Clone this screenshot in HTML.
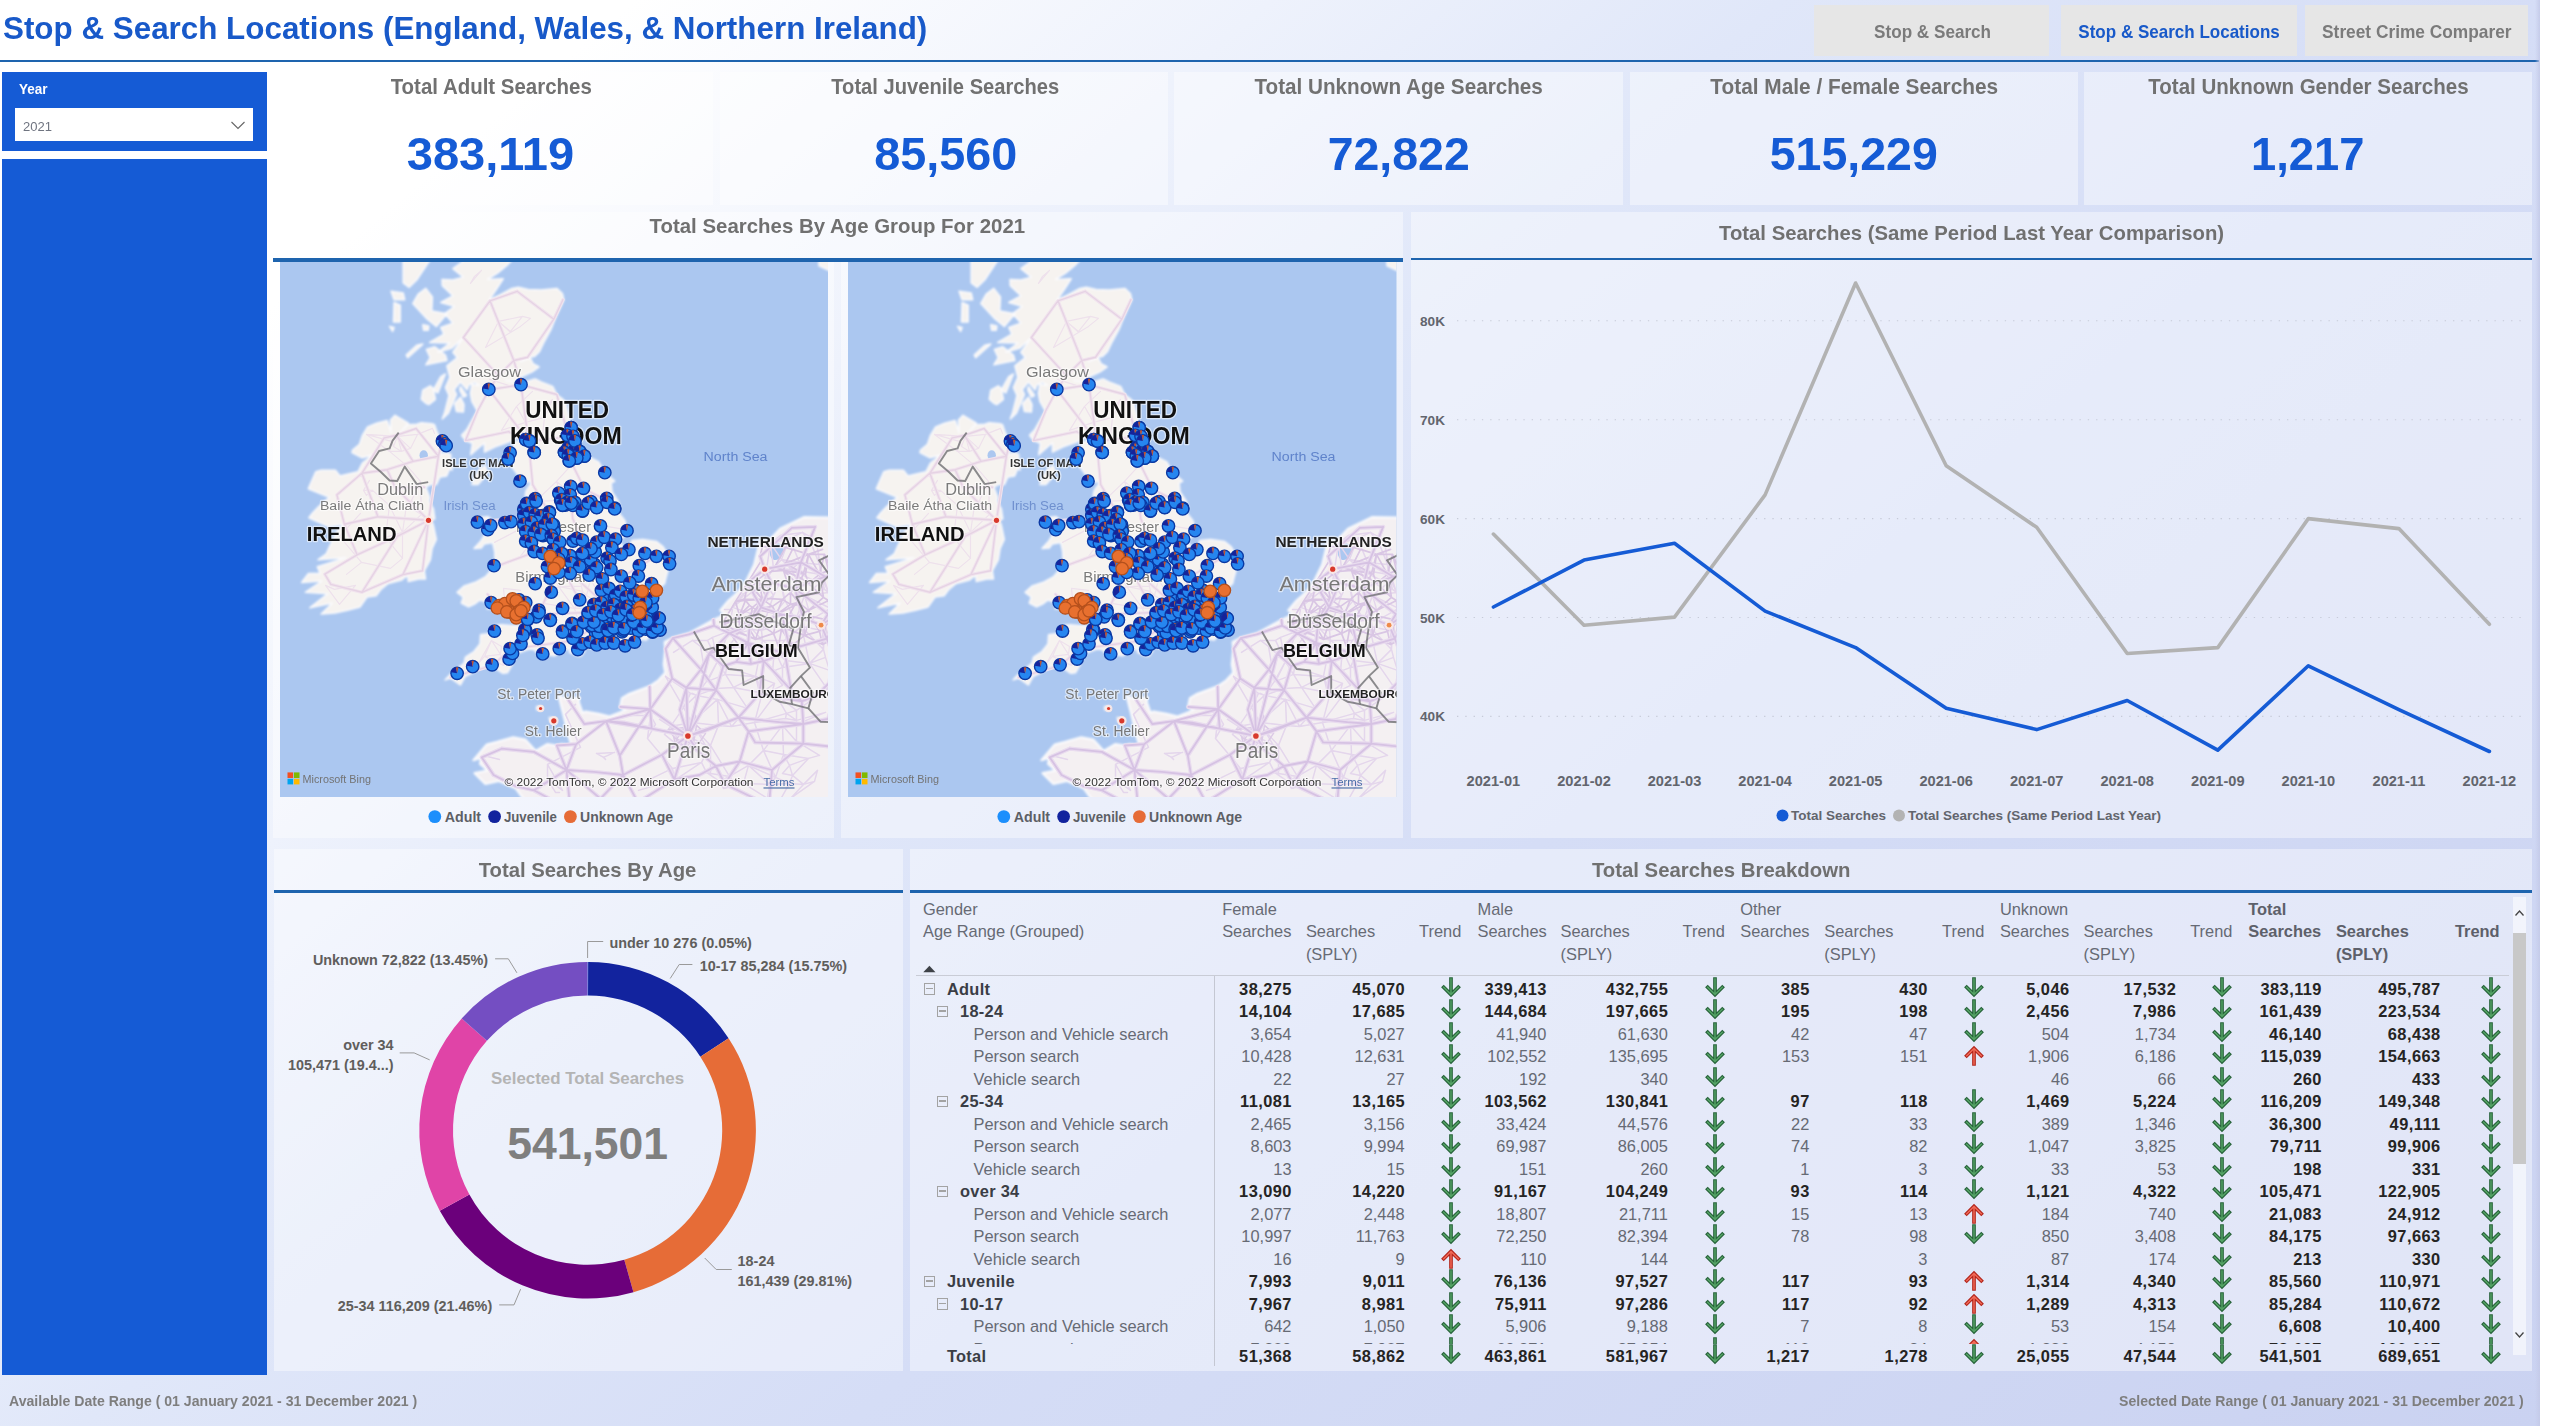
<!DOCTYPE html>
<html lang="en">
<head>
<meta charset="utf-8">
<title>Stop &amp; Search Locations</title>
<style>
*{box-sizing:border-box;margin:0;padding:0}
html,body{width:2560px;height:1426px;overflow:hidden;background:#fff}
body{font-family:"Liberation Sans",sans-serif;color:#6b6b6b;position:relative}
#canvas{position:absolute;left:0;top:0;width:2540px;height:1426px;overflow:hidden;
 background:linear-gradient(140deg,#fff 0%,#fff 15%,#eef2fc 30%,#e0e7f9 42%,#d5ddf6 60%,#cad2f1 100%)}
#edge{position:absolute;left:2535px;top:0;width:5px;height:1426px;background:linear-gradient(90deg,rgba(200,206,236,0),rgba(196,202,232,.9))}
.abs{position:absolute}
.panel{position:absolute;background:rgba(255,255,255,.42)}
.hline{position:absolute;height:3px;background:#1e64ae}
.t{position:absolute;white-space:nowrap;line-height:1;font-weight:bold}
.nav{position:absolute;top:4.5px;height:51.5px;background:#e6e6e6}
.side{position:absolute;left:2px;width:264.5px;background:#155bd5}
</style>
</head>
<body>
<div id="canvas">
<!-- HEADER -->
<div class="t" style="top:13.42px;font-size:31.10px;color:#1859c9;left:2.50px;transform:scaleX(1.0088);transform-origin:0 50%;">Stop &amp; Search Locations (England, Wales, &amp; Northern Ireland)</div>
<div class="nav" style="left:1814.0px;width:235.0px"></div>
<div class="nav" style="left:2060.7px;width:236.0px"></div>
<div class="nav" style="left:2305.0px;width:223.3px"></div>
<div class="t" style="top:22.76px;font-size:18.60px;color:#7b7b7b;left:1848.53px;width:167.13px;text-align:center;transform:scaleX(0.9203);">Stop &amp; Search</div>
<div class="t" style="top:22.76px;font-size:18.60px;color:#1859c9;left:2049.03px;width:260.14px;text-align:center;transform:scaleX(0.9153);">Stop &amp; Search Locations</div>
<div class="t" style="top:22.76px;font-size:18.60px;color:#7b7b7b;left:2295.08px;width:243.64px;text-align:center;transform:scaleX(0.9306);">Street Crime Comparer</div>
<div class="hline" style="left:0;top:59.6px;width:2539px;height:2.8px"></div>
<!-- SIDEBAR -->
<div class="side" style="top:72px;height:79.3px"></div>
<div class="t" style="top:82.35px;font-size:14.00px;color:#fff;left:19.00px;transform:scaleX(0.9633);transform-origin:0 50%;">Year</div>
<div class="abs" style="left:14.5px;top:107.5px;width:238.5px;height:33.3px;background:#fff"></div>
<div class="t" style="top:120.09px;font-size:13.60px;font-weight:normal;color:#6f7480;left:23.00px;transform:scaleX(0.9585);transform-origin:0 50%;">2021</div>
<svg class="abs" style="left:230px;top:119px" width="16" height="12" viewBox="0 0 16 12"><path d="M1.5 3 L8 9.5 L14.5 3" fill="none" stroke="#666" stroke-width="1.1"/></svg>
<div class="side" style="top:158.5px;height:1216.3px"></div>
<!-- KPI CARDS -->
<div class="panel" style="left:273.0px;top:71.7px;width:440.0px;height:133px"></div>
<div class="panel" style="left:720.0px;top:71.7px;width:447.5px;height:133px"></div>
<div class="panel" style="left:1174.0px;top:71.7px;width:448.5px;height:133px"></div>
<div class="panel" style="left:1630.0px;top:71.7px;width:447.5px;height:133px"></div>
<div class="panel" style="left:2084.0px;top:71.7px;width:448.0px;height:133px"></div>
<div class="t" style="top:75.92px;font-size:21.60px;color:#717171;left:364.58px;width:252.45px;text-align:center;transform:scaleX(0.9471);">Total Adult Searches</div>
<div class="t" style="top:130.60px;font-size:46.90px;color:#155bd5;left:387.33px;width:206.95px;text-align:center;transform:scaleX(1.0027);">383,119</div>
<div class="t" style="top:75.92px;font-size:21.60px;color:#717171;left:803.05px;width:284.51px;text-align:center;transform:scaleX(0.9325);">Total Juvenile Searches</div>
<div class="t" style="top:130.60px;font-size:46.90px;color:#155bd5;left:853.58px;width:183.45px;text-align:center;transform:scaleX(0.9969);">85,560</div>
<div class="t" style="top:75.92px;font-size:21.60px;color:#717171;left:1228.37px;width:341.26px;text-align:center;transform:scaleX(0.9576);">Total Unknown Age Searches</div>
<div class="t" style="top:130.60px;font-size:46.90px;color:#155bd5;left:1307.28px;width:183.45px;text-align:center;transform:scaleX(0.9899);">72,822</div>
<div class="t" style="top:75.92px;font-size:21.60px;color:#717171;left:1684.73px;width:338.53px;text-align:center;transform:scaleX(0.9647);">Total Male / Female Searches</div>
<div class="t" style="top:130.60px;font-size:46.90px;color:#155bd5;left:1749.23px;width:209.53px;text-align:center;transform:scaleX(0.9910);">515,229</div>
<div class="t" style="top:75.92px;font-size:21.60px;color:#717171;left:2119.56px;width:376.88px;text-align:center;transform:scaleX(0.9514);">Total Unknown Gender Searches</div>
<div class="t" style="top:130.60px;font-size:46.90px;color:#155bd5;left:2229.32px;width:157.37px;text-align:center;transform:scaleX(0.9671);">1,217</div>
<!-- MAP SECTION -->
<div class="panel" style="left:273px;top:212.3px;width:1130px;height:46px"></div>
<div class="t" style="top:216.29px;font-size:20.80px;color:#707070;left:626.30px;width:422.61px;text-align:center;transform:scaleX(0.9819);">Total Searches By Age Group For 2021</div>
<div class="hline" style="left:273px;top:258.4px;width:1130px;height:3.2px"></div>
<div class="panel" style="left:273px;top:261.6px;width:560.5px;height:576.4px"></div>
<div class="panel" style="left:841px;top:261.6px;width:562px;height:576.4px"></div>
<!--MAPS-->
<svg width="0" height="0" style="position:absolute"><defs>
<filter id="bl" x="-5%" y="-5%" width="110%" height="110%"><feGaussianBlur stdDeviation="0.9"/></filter>
<filter id="bl2" x="-5%" y="-5%" width="110%" height="110%"><feGaussianBlur stdDeviation="0.6"/></filter>
<g id="mb"><circle r="6.2" fill="#2686f0" stroke="#0a39a3" stroke-width="1.4"/><path d="M0 0L-5.9 -1A6 6 0 0 1 -1.2 -5.9Z" fill="#16239a"/><path d="M0 0L-1.2 -5.9A6 6 0 0 1 1.2 -5.9Z" fill="#c0502c"/></g>
<g id="mn"><circle r="6.2" fill="#2686f0" stroke="#0a39a3" stroke-width="1.4"/><path d="M0 0L-4.5 4A6 6 0 0 1 -.5 -6Z" fill="#16239a"/><path d="M0 0L-.5 -6A6 6 0 0 1 1.4 -5.8Z" fill="#c0502c"/></g>
<g id="mo"><circle r="6.2" fill="#e8702f" stroke="#b4501c" stroke-width="1.3"/></g>
<symbol id="map" viewBox="279.5 261.6 548.5 535.4" overflow="hidden">
<rect x="279" y="260" width="550" height="538" fill="#abc7f0"/>
<g filter="url(#bl)"><path d="M466.0 235.5L495.5 236.6L515.1 232.6L525.6 234.3L523.8 245.9L506.6 264.8L497.0 272.8L487.0 279.0L502.7 278.4L496.1 288.6L488.5 299.8L500.0 294.2L511.4 288.0L517.8 286.9L527.4 289.2L540.7 289.7L556.3 288.0L561.8 293.1L563.3 299.3L554.2 319.4L550.3 329.3L542.8 343.1L538.9 351.3L533.7 356.2L527.1 356.8L520.2 361.1L529.8 357.3L532.5 363.3L538.6 366.6L531.6 371.5L521.7 375.8L514.2 381.2L505.1 380.1L521.1 382.8L534.6 378.5L541.0 381.7L552.1 386.0L556.3 394.1L562.4 398.9L565.1 402.6L568.1 414.3L571.4 428.1L573.8 433.9L575.6 439.6L581.0 451.1L582.0 453.7L584.7 454.8L598.2 461.5L604.5 472.4L614.2 480.6L610.6 482.7L611.5 491.4L617.5 500.6L619.9 508.2L606.7 500.1L595.5 502.1L610.6 506.2L615.7 509.2L624.4 520.4L626.8 530.4L626.5 532.5L619.0 541.0L622.6 546.5L628.7 548.0L631.4 540.0L642.2 539.0L655.8 541.0L662.7 546.5L668.7 556.9L669.6 563.3L667.2 570.8L664.8 579.6L664.2 583.0L657.3 588.9L655.2 589.9L655.5 594.3L651.2 597.2L643.7 599.2L645.2 606.5L638.0 609.8L627.1 613.2L627.7 614.2L639.5 614.2L647.6 618.1L658.2 616.6L660.0 617.6L659.4 619.5L658.8 624.8L657.9 628.7L652.2 631.5L645.8 639.7L639.8 638.7L634.4 642.5L624.1 647.8L612.4 644.0L605.5 644.4L592.8 648.7L583.8 645.4L574.4 640.1L569.9 647.3L569.9 649.2L560.0 648.7L557.8 652.5L554.5 655.4L542.8 654.0L542.5 658.7L533.4 649.2L528.3 648.7L513.9 654.0L511.7 663.9L506.9 672.4L502.4 672.9L491.9 665.8L482.5 666.3L472.0 672.4L464.4 676.2L459.9 684.6L450.0 677.6L444.6 679.5L451.5 672.4L463.5 663.0L465.0 656.8L473.5 651.1L479.5 643.5L480.1 634.4L490.1 633.0L492.5 625.3L501.2 624.3L512.0 625.3L526.2 625.3L526.8 618.5L535.2 611.3L541.3 601.6L526.5 608.9L521.1 613.2L509.6 616.1L505.1 612.3L497.9 605.5L496.1 607.9L486.7 608.4L490.1 603.1L479.5 599.6L475.0 603.1L468.1 606.5L460.8 602.6L462.9 596.7L456.6 591.9L463.8 585.5L475.6 581.6L485.2 576.2L493.4 566.8L494.6 560.9L494.3 551.4L492.2 542.0L483.7 543.5L481.0 547.5L473.5 548.0L480.4 540.5L486.1 531.4L482.5 529.4L476.5 521.9L478.9 517.3L487.3 516.3L494.9 521.9L493.1 525.9L500.0 520.4L505.1 522.4L511.4 521.4L516.6 519.9L524.7 527.4L520.2 517.9L525.0 515.3L526.2 517.3L523.2 509.8L526.2 504.7L532.2 500.1L524.7 496.0L525.6 490.4L532.2 480.6L518.7 483.2L518.7 476.5L507.2 460.5L509.0 453.2L511.1 449.6L514.5 441.7L524.7 437.5L518.4 436.0L508.1 441.7L494.6 446.4L484.0 451.7L484.0 442.3L470.2 454.3L472.0 442.8L465.0 440.2L461.1 434.9L466.0 429.7L470.2 422.3L476.8 410.6L471.4 401.0L469.9 393.0L471.4 383.9L478.9 385.0L474.1 381.7L468.4 384.4L466.6 389.3L459.9 381.7L453.6 389.3L456.0 394.1L447.9 412.7L441.8 418.6L444.0 412.7L448.5 395.1L444.9 387.1L449.4 376.9L446.4 365.5L456.9 357.3L452.4 351.9L462.9 337.1L450.9 348.0L437.3 351.9L449.4 342.6L429.2 342.0L443.4 333.8L440.3 327.1L452.4 322.7L444.3 313.3L453.9 306.0L440.3 302.1L452.4 295.4L441.8 285.2L441.5 279.0L452.4 279.6L462.9 276.7L452.4 268.2L462.9 260.8L453.9 255.6L466.0 247.0ZM394.5 414.9L407.8 422.8L399.7 432.3L407.2 424.4L416.2 423.9L420.8 422.3L431.3 423.3L434.0 424.4L436.7 432.3L441.8 442.8L444.9 445.4L438.8 454.3L445.8 452.2L450.0 453.7L451.5 469.8L449.4 467.8L446.1 475.5L439.4 476.5L435.8 484.2L429.8 484.2L425.3 486.8L429.2 497.0L428.3 501.1L432.8 508.2L434.3 518.4L429.8 520.4L432.2 522.9L433.4 527.4L435.8 539.0L431.6 548.0L429.8 559.4L423.8 570.3L425.0 578.6L418.3 578.6L407.8 581.1L407.2 574.7L401.2 579.6L387.6 583.0L380.1 589.4L375.6 595.3L366.5 596.7L359.6 606.5L346.9 609.8L334.3 612.7L320.7 613.7L331.9 602.6L309.3 607.4L327.4 593.3L304.8 591.9L321.3 580.6L301.1 582.1L307.8 573.2L319.8 573.2L316.8 566.3L345.4 557.4L317.4 559.4L325.8 553.4L331.9 540.0L337.3 529.9L343.9 523.9L327.4 525.9L308.4 517.3L312.3 512.3L318.3 506.2L328.9 497.0L307.8 488.3L315.3 471.4L320.7 469.8L334.9 469.8L339.4 475.5L357.5 471.4L362.0 462.6L372.5 454.3L361.7 457.4L351.5 452.2L352.1 449.6L359.0 443.8L362.0 434.9L367.1 426.5L376.2 422.8L386.7 420.2L390.6 432.3L390.0 419.6ZM568.7 651.6L577.4 646.3L584.4 650.2L580.7 655.4L577.4 655.9ZM484.9 465.2L486.7 471.4L481.9 479.1L477.4 484.2L471.4 484.2L475.0 475.5L479.5 468.3ZM459.9 396.8L463.5 404.2L462.9 411.7L456.0 411.1L454.2 403.2ZM420.8 398.9L422.3 389.8L429.8 385.5L432.8 388.2L434.9 398.9L428.3 404.2L425.9 403.2ZM444.9 373.6L437.3 392.5L432.8 389.8L440.3 376.3ZM425.3 364.4L446.4 360.1L444.9 354.6L434.3 346.4L425.9 349.1L429.8 357.3ZM446.4 313.3L435.8 326.0L426.8 318.8L412.3 303.2L417.7 293.7L425.3 288.0L431.9 296.5L431.3 310.5ZM429.8 242.4L431.3 256.8L423.8 268.2L416.2 279.6L408.7 286.9L402.7 282.4L402.7 259.6L411.7 251.0ZM390.6 290.9L402.7 292.5L404.2 299.3L393.6 299.3ZM393.6 302.1L399.7 304.9L399.7 321.6L393.0 321.6ZM389.1 326.0L393.6 327.1L392.1 331.0ZM422.3 324.4L428.3 325.5L427.7 329.9L423.2 329.9ZM416.2 344.8L422.3 343.7L407.2 357.3L405.7 354.6ZM459.9 386.0L466.0 395.1L462.9 396.8L459.3 389.8ZM548.8 717.2L555.7 718.1L555.7 721.3L549.7 720.8ZM536.2 706.1L540.7 706.1L540.4 709.8L536.2 709.3ZM518.7 801.9L524.1 805.9L521.7 806.4ZM818.5 265.4L830.5 271.0L845.6 268.2L845.6 225.0L818.5 225.0Z" fill="#f6f3f0" stroke="#fbfbfd" stroke-width="1.5" stroke-linejoin="round"/><path d="M872.7 507.2L833.5 517.3L803.4 516.8L779.6 528.4L768.2 540.5L759.7 539.5L753.7 564.3L745.3 581.6L740.7 587.9L733.2 595.8L728.1 600.1L719.9 609.8L724.2 614.2L718.4 617.1L713.0 619.5L704.3 624.3L688.3 633.0L672.3 637.3L664.2 641.6L664.8 648.7L663.3 663.9L664.8 672.4L657.9 679.9L649.1 686.0L627.7 694.0L621.4 697.7L619.6 706.5L625.6 708.8L618.7 712.5L609.1 716.2L597.9 713.5L585.0 711.1L582.0 712.5L578.3 701.9L578.6 696.8L567.8 699.1L558.1 695.4L562.4 712.1L568.4 736.5L571.1 745.6L560.9 743.8L555.7 745.1L546.7 743.8L535.2 750.6L524.7 739.2L512.7 736.9L496.7 741.5L486.1 744.2L472.9 759.7L481.0 757.4L479.5 763.3L487.0 770.1L474.1 772.8L484.9 783.6L498.5 780.5L515.4 788.1L522.6 797.9L532.2 805.9L532.2 841.2L872.7 841.2Z" fill="#f4f0f2" stroke="#fbfbfd" stroke-width="2.2" stroke-linejoin="round"/></g>
<g filter="url(#bl2)">
<ellipse cx="776.3" cy="551.4" rx="6.5" ry="8.5" fill="#abc7f0" transform="rotate(25 776.3 551.4)"/>
<ellipse cx="423.2" cy="454.8" rx="4.2" ry="5" fill="#abc7f0"/>
<path d="M692 693L696 695M692 693L690 693M483 755L499 759M774 649L762 640M774 649L772 671M774 649L782 667M774 649L779 649M774 649L785 660M731 779L743 783M731 779L723 788M731 779L719 781M731 779L729 776M762 640L761 630M762 640L738 633M762 640L752 629M762 640L755 676M762 640L784 640M789 538L781 559M789 538L780 535M789 538L770 543M789 538L799 562M789 538L802 532M789 538L811 544M555 792L559 792M555 792L547 779M780 799L789 783M780 799L767 798M761 630L795 620M761 630L784 601M761 630L773 595M761 630L750 613M761 630L752 629M732 607L746 596M732 607L750 613M732 607L742 594M732 607L743 595M825 657L823 649M825 657L829 670M825 657L809 663M785 601L795 620M785 601L780 581M785 601L784 601M795 620L811 619M795 620L804 595M696 695L683 707M696 695L691 722M696 695L706 681M696 695L717 699M696 695L716 688M696 695L690 693M700 646L717 661M700 646L706 681M700 646L692 640M819 583L804 595M819 583L824 589M819 583L791 569M596 753L603 757M596 753L614 752M781 559L770 543M781 559L799 562M781 559L773 568M781 559L791 569M705 745L692 738M705 745L696 730M705 745L710 745M790 798L814 781M790 798L803 784M814 781L817 770M814 781L803 784M580 747L547 764M580 747L565 714M647 738L650 715M647 738L655 724M647 738L672 768M763 750L754 722M763 750L748 765M763 750L783 754M763 750L775 777M763 750L782 725M701 762L706 772M701 762L710 745M701 762L674 780M701 762L672 768M780 535L770 543M780 535L802 532M707 681L717 661M707 681L706 681M707 681L725 674M675 719L683 707M675 719L670 726M692 738L696 730M692 738L670 726M692 738L684 751M762 692L754 722M762 692L747 708M762 692L774 683M762 692L775 694M762 692L755 676M789 783L792 775M789 783L803 784M789 783L775 777M789 783L769 784M796 741L796 724M796 741L819 755M796 741L782 725M659 719L670 726M743 783L723 788M743 783L748 765M743 783L769 784M743 783L767 798M696 730L710 745M696 730L718 725M822 630L811 619M822 630L823 649M822 630L801 626M717 661L728 631M717 661L707 640M717 661L726 667M717 661L706 681M717 661L738 633M717 661L712 637M717 661L725 674M706 772L710 773M706 772L719 781M706 772L674 780M723 788L719 781M728 631L738 633M728 631L712 637M728 631L744 625M728 631L732 609M780 581L784 601M780 581L773 595M780 581L764 582M782 773L792 775M782 773L789 765M773 595L750 613M773 595L764 582M683 707L665 676M683 707L691 722M683 707L690 693M575 704L565 714M792 775L803 784M792 775L789 765M792 775L808 758M811 619L830 608M811 619L804 595M746 596L742 594M746 596L764 582M746 596L743 595M710 745L710 773M710 745L729 776M710 745L718 725M670 726L691 722M670 726L664 734M670 726L684 751M750 613L746 627M750 613L752 629M750 613L744 625M603 757L605 759M603 757L614 752M754 722L786 713M754 722L731 726M754 722L775 694M754 722L785 718M665 676L690 693M691 722L717 699M691 722L718 725M707 640L692 640M707 640L712 637M817 770L803 784M759 692L733 687M759 692L747 708M759 692L755 676M669 781L643 782M669 781L674 780M669 781L638 790M786 713L796 720M786 713L775 694M786 713L785 718M786 713L796 710M782 685L772 690M782 685L772 671M782 685L782 667M731 726L747 708M731 726L717 699M731 726L718 725M726 667L755 676M726 667L725 674M746 627L738 633M746 627L752 629M746 627L744 625M796 720L796 724M796 720L785 718M796 720L825 712M796 720L796 710M622 715L650 715M820 574L828 592M820 574L824 589M820 574L791 569M820 574L819 564M643 782L672 768M710 773L729 776M823 649L824 629M823 649L809 663M823 649L801 626M719 781L729 776M674 780L672 768M733 687L747 708M733 687L755 676M733 687L716 688M733 687L725 674M747 708L717 699M789 765L808 758M789 765L783 754M796 724L825 712M816 540L820 568M816 540L802 532M816 540L819 564M770 543L764 582M770 543L773 568M820 568L828 592M820 568L819 564M772 690L774 683M772 690L775 694M748 765L729 776M748 765L775 777M748 765L769 784M692 640L673 652M774 683L755 676M738 633L752 629M738 633L744 625M830 608L804 595M830 608L828 592M830 608L824 629M830 608L825 617M827 689L829 670M827 689L809 663M827 689L796 710M804 595L828 592M804 595L824 589M804 595L791 569M742 594L764 582M742 594L743 595M764 582L773 568M772 671L782 667M829 670L809 663M547 779L562 790M547 779L547 764M775 694L796 710M562 790L547 764M799 562L791 569M799 562L819 564M717 699L718 725M828 592L824 589M802 532L811 544M650 715L655 724M755 676L725 674M773 568L791 569M808 758L819 755M808 758L783 754M824 629L830 651M664 734L684 751M783 754L775 777M783 754L782 725M775 777L769 784M809 663L782 667M809 663L801 626M809 663L785 660M782 667L785 660M769 784L767 798M801 626L784 640M724 609L732 609M779 649L784 640M779 649L785 660M811 544L819 564" fill="none" stroke="#e4d6ec" stroke-width="1.5" stroke-linecap="round"/>
<path d="M825 626L826 642M825 626L829 620M825 626L819 631M762 599L744 599M762 599L758 579M762 599L745 600M762 599L772 606M762 599L752 586M762 599L751 586M762 599L755 609M762 599L766 598M762 599L752 607M785 563L792 549M785 563L783 570M785 563L803 573M785 563L808 554M802 613L804 635M802 613L798 604M802 613L782 627M802 613L808 610M794 605L798 602M794 605L798 604M794 605L790 604M794 605L782 627M794 605L776 614M826 642L829 625M826 642L822 644M761 560L763 575M761 560L748 581M798 602L790 592M798 602L798 604M798 602L790 604M798 602L808 610M798 602L798 583M805 574L803 573M805 574L808 583M805 574L808 554M792 549L808 554M792 549L785 547M773 633L781 629M773 633L776 621M773 633L760 624M773 633L755 639M773 633L778 646M749 605L745 600M749 605L739 615M749 605L752 607M804 635L792 645M804 635L819 631M804 635L782 627M804 635L810 616M804 635L822 644M795 582L790 592M795 582L783 570M795 582L801 578M795 582L798 583M790 592L782 599M790 592L783 570M790 592L790 604M790 592L798 583M829 620L829 625M829 620L810 616M829 620L828 600M782 599L790 604M782 599L772 606M782 599L776 614M782 599L766 598M771 571L774 567M771 571L763 575M771 571L783 570M774 567L783 570M774 567L785 547M739 621L739 615M739 621L739 632M739 621L722 623M739 621L748 627M781 629L792 645M781 629L782 627M781 629L778 646M744 599L735 601M744 599L745 600M744 599L748 581M763 575L758 579M775 613L776 621M775 613L772 606M775 613L776 614M775 613L755 609M735 601L745 600M735 601L739 615M735 601L722 623M735 601L748 581M758 579L752 586M758 579L748 581M758 579L766 598M792 645L782 627M792 645L778 646M776 621L760 624M776 621L782 627M783 570L803 573M783 570L801 578M823 597L808 583M823 597L819 574M823 597L828 600M823 597L808 610M803 573L808 554M803 573L801 578M824 554L831 569M824 554L819 574M824 554L808 554M824 554L828 570M760 624L755 639M760 624L755 609M762 546L785 547M762 546L760 554M822 549L808 554M808 583L819 574M808 583L801 578M808 583L798 583M831 569L828 570M745 600L739 615M790 604L776 614M819 574L808 554M819 574L828 570M739 615L722 623M739 615L748 627M739 615L752 607M819 631L810 616M819 631L822 644M772 606L776 614M772 606L755 609M739 632L755 639M739 632L722 623M739 632L732 636M755 639L748 627M722 623L732 636M732 636L741 649M752 586L751 586M752 586L748 581M810 616L808 610M828 600L808 610M755 609L748 627M755 609L752 607M748 627L752 607M801 578L798 583" fill="none" stroke="#d9c6e4" stroke-width="1.7" stroke-linecap="round"/>
<path d="M676 739L684 727M676 739L673 736M676 739L676 748M676 739L693 743M676 739L687 749M668 729L684 727M668 729L673 736M684 727L693 743M684 727L695 715M690 752L693 750M690 752L676 748M690 752L687 749M705 733L699 742M705 733L696 725M673 736L676 748M693 750L693 743M699 742L693 743M676 748L687 749M696 725L693 743M696 725L695 715M696 725L691 725M693 743L687 749M693 743L691 725M695 715L691 725" fill="none" stroke="#dccbe6" stroke-width="1.5" stroke-linecap="round"/>
<path d="M580 571L558 586M580 571L590 579M580 571L581 586M580 571L584 562M562 500L556 481M562 500L574 496M562 500L535 501M501 646L491 640M501 646L500 654M485 347L510 332M485 347L498 321M503 665L484 656M503 665L504 658M503 665L500 654M561 544L584 562M484 656L478 663M484 656L491 640M484 656L500 654M520 326L530 318M520 326L510 332M470 283L474 276M470 283L481 270M514 387L489 379M610 615L617 625M478 663L491 640M516 406L501 430M516 406L532 391M516 406L525 422M558 586L574 608M558 586L582 591M558 586L549 566M558 586L543 603M558 586L581 586M621 622L617 608M510 331L510 332M510 331L522 316M510 331L498 321M474 276L481 270M574 608L582 591M574 608L543 603M574 608L586 595M574 608L607 608M574 608L582 635M542 435L544 417M582 591L586 595M582 591L581 586M530 318L522 316M552 399L544 417M552 399L544 409M520 590L503 588M616 551L596 562M590 579L586 595M590 579L607 608M590 579L596 562M590 579L584 562M520 556L538 532M614 550L596 562M587 503L578 507M587 503L574 496M587 503L585 513M494 542L517 530M586 595L607 608M607 608L617 608M556 481L574 496M556 481L577 458M556 481L535 501M538 532L535 501M510 332L498 321M544 417L544 409M544 417L525 422M578 507L574 496M578 507L585 513M491 640L500 654M501 430L525 422M624 529L600 525M522 316L498 321M505 609L503 588" fill="none" stroke="#eee1ec" stroke-width="1.2" stroke-linecap="round"/>
<path d="M372 490L366 495M372 490L389 505M372 490L363 490M325 585L334 589M325 585L339 604M434 433L432 428M385 537L402 558M385 537L402 532M385 537L389 505M406 505L402 532M406 505L421 514M410 448L397 436M410 448L417 434M410 448L401 451M390 568L361 562M390 568L402 558M361 562L346 574M361 562L339 536M402 558L402 532M366 434L391 441M366 434L397 436M366 434L389 451M334 589L355 585M432 428L417 434M360 513L339 536M391 441L397 436M391 441L389 451M391 441L393 446M366 495L363 490M397 436L393 446M397 436L417 434M397 436L401 451M389 451L407 466M389 451L401 451M393 446L401 451M402 532L389 505M402 532L421 514M355 585L339 604M420 481L421 514M420 481L407 466M420 481L411 500M369 480L363 490M421 514L411 500" fill="none" stroke="#eee1ec" stroke-width="1.2" stroke-linecap="round"/>
<path d="M613.0 611.3L559.4 563.3M559.4 563.3L549.1 513.3M549.1 513.3L532.2 484.2M532.2 484.2L528.0 440.7M528.0 440.7L488.5 389.3M488.5 389.3L520.5 384.4M488.5 389.3L497.9 375.2M497.9 375.2L513.3 360.1M513.3 360.1L527.1 356.8M527.1 356.8L553.3 318.8M513.3 360.1L489.5 300.4M489.5 300.4L516.6 290.9M516.6 290.9L553.3 318.8M553.3 318.8L562.4 299.3M520.5 384.4L556.3 394.1M556.3 394.1L568.1 436.5M568.1 436.5L569.9 460.0M569.9 460.0L584.1 488.9M584.1 488.9L569.9 497.0M569.9 497.0L572.3 518.4M572.3 518.4L582.0 540.0M582.0 540.0L613.0 611.3M569.9 497.0L549.1 513.3M549.1 513.3L526.8 516.8M526.8 516.8L477.1 521.9M559.4 563.3L538.6 613.7M538.6 613.7L510.2 648.7M510.2 648.7L491.9 665.3M491.9 665.3L450.0 677.1M538.6 613.7L520.8 612.3M520.8 612.3L497.9 605.5M497.9 605.5L487.0 593.8M613.0 611.3L538.6 613.7M613.0 611.3L574.4 640.1M613.0 611.3L656.1 629.1M613.0 611.3L620.2 577.2M620.2 577.2L655.8 555.9M613.0 611.3L578.6 599.2M578.6 599.2L559.4 563.3M559.4 563.3L533.7 551.9M533.7 551.9L493.7 566.8M528.0 440.7L508.1 431.2M508.1 431.2L465.0 440.2M488.5 389.3L477.1 410.6M477.1 410.6L465.0 440.2M528.0 440.7L568.1 436.5M520.5 384.4L528.0 440.7M497.9 375.2L462.9 337.1M462.9 337.1L489.5 300.4M584.1 488.9L606.7 500.1M520.5 384.4L513.3 360.1M510.2 648.7L574.4 640.1M428.0 519.9L437.9 455.8M428.0 519.9L377.4 516.3M377.4 516.3L343.9 523.9M428.0 519.9L396.7 536.0M396.7 536.0L356.6 554.4M396.7 536.0L361.4 591.9M428.0 519.9L422.0 570.3M422.0 570.3L402.4 574.2M402.4 574.2L361.4 591.9M361.4 591.9L330.4 584.0M330.4 584.0L324.3 573.7M324.3 573.7L356.6 554.4M356.6 554.4L343.9 523.9M343.9 523.9L336.4 494.5M336.4 494.5L361.4 472.9M361.4 472.9L386.7 469.3M361.4 472.9L383.7 437.5M383.7 437.5L396.0 434.9M396.0 434.9L415.6 428.1M415.6 428.1L437.9 455.8M437.9 455.8L441.2 442.8M437.9 455.8L412.6 461.0M412.6 461.0L386.7 469.3M412.6 461.0L396.0 434.9M428.0 519.9L394.8 487.3M394.8 487.3L386.7 469.3M377.4 516.3L361.4 472.9M428.0 519.9L402.4 574.2M423.8 486.8L394.8 487.3" fill="none" stroke="#f1e4ee" stroke-width="3.4" stroke-linecap="round"/><path d="M613.0 611.3L559.4 563.3M559.4 563.3L549.1 513.3M549.1 513.3L532.2 484.2M532.2 484.2L528.0 440.7M528.0 440.7L488.5 389.3M488.5 389.3L520.5 384.4M488.5 389.3L497.9 375.2M497.9 375.2L513.3 360.1M513.3 360.1L527.1 356.8M527.1 356.8L553.3 318.8M513.3 360.1L489.5 300.4M489.5 300.4L516.6 290.9M516.6 290.9L553.3 318.8M553.3 318.8L562.4 299.3M520.5 384.4L556.3 394.1M556.3 394.1L568.1 436.5M568.1 436.5L569.9 460.0M569.9 460.0L584.1 488.9M584.1 488.9L569.9 497.0M569.9 497.0L572.3 518.4M572.3 518.4L582.0 540.0M582.0 540.0L613.0 611.3M569.9 497.0L549.1 513.3M549.1 513.3L526.8 516.8M526.8 516.8L477.1 521.9M559.4 563.3L538.6 613.7M538.6 613.7L510.2 648.7M510.2 648.7L491.9 665.3M491.9 665.3L450.0 677.1M538.6 613.7L520.8 612.3M520.8 612.3L497.9 605.5M497.9 605.5L487.0 593.8M613.0 611.3L538.6 613.7M613.0 611.3L574.4 640.1M613.0 611.3L656.1 629.1M613.0 611.3L620.2 577.2M620.2 577.2L655.8 555.9M613.0 611.3L578.6 599.2M578.6 599.2L559.4 563.3M559.4 563.3L533.7 551.9M533.7 551.9L493.7 566.8M528.0 440.7L508.1 431.2M508.1 431.2L465.0 440.2M488.5 389.3L477.1 410.6M477.1 410.6L465.0 440.2M528.0 440.7L568.1 436.5M520.5 384.4L528.0 440.7M497.9 375.2L462.9 337.1M462.9 337.1L489.5 300.4M584.1 488.9L606.7 500.1M520.5 384.4L513.3 360.1M510.2 648.7L574.4 640.1M428.0 519.9L437.9 455.8M428.0 519.9L377.4 516.3M377.4 516.3L343.9 523.9M428.0 519.9L396.7 536.0M396.7 536.0L356.6 554.4M396.7 536.0L361.4 591.9M428.0 519.9L422.0 570.3M422.0 570.3L402.4 574.2M402.4 574.2L361.4 591.9M361.4 591.9L330.4 584.0M330.4 584.0L324.3 573.7M324.3 573.7L356.6 554.4M356.6 554.4L343.9 523.9M343.9 523.9L336.4 494.5M336.4 494.5L361.4 472.9M361.4 472.9L386.7 469.3M361.4 472.9L383.7 437.5M383.7 437.5L396.0 434.9M396.0 434.9L415.6 428.1M415.6 428.1L437.9 455.8M437.9 455.8L441.2 442.8M437.9 455.8L412.6 461.0M412.6 461.0L386.7 469.3M412.6 461.0L396.0 434.9M428.0 519.9L394.8 487.3M394.8 487.3L386.7 469.3M377.4 516.3L361.4 472.9M428.0 519.9L402.4 574.2M423.8 486.8L394.8 487.3" fill="none" stroke="#e6d3e4" stroke-width="1.4" stroke-linecap="round"/>
<path d="M687.4 735.6L708.8 653.0M708.8 653.0L747.7 642.5M747.7 642.5L749.2 624.8M749.2 624.8L760.6 606.9M760.6 606.9L751.6 590.9M751.6 590.9L746.2 583.0M746.2 583.0L764.2 568.8M764.2 568.8L770.9 582.6M770.9 582.6L794.4 587.9M770.9 582.6L760.6 606.9M760.6 606.9L781.4 614.2M781.4 614.2L802.5 617.6M802.5 617.6L820.6 624.8M781.4 614.2L788.0 642.5M788.0 642.5L784.4 653.0M784.4 653.0L799.8 645.9M799.8 645.9L826.3 638.2M826.3 638.2L820.6 624.8M820.6 624.8L827.5 613.7M827.5 613.7L841.7 610.8M841.7 610.8L846.5 588.9M846.5 588.9L859.1 573.2M794.4 587.9L827.5 613.7M794.4 587.9L800.4 561.9M800.4 561.9L814.6 526.4M764.2 568.8L800.4 561.9M764.2 568.8L759.7 555.9M759.7 555.9L791.4 527.4M791.4 527.4L814.6 526.4M800.4 561.9L824.5 576.2M824.5 576.2L859.1 573.2M794.4 587.9L824.5 576.2M747.7 642.5L784.4 653.0M747.7 642.5L763.3 660.6M763.3 660.6L801.3 700.9M763.3 660.6L784.4 653.0M747.7 642.5L750.4 663.4M750.4 663.4L763.3 660.6M747.7 642.5L728.7 633.0M728.7 633.0L713.6 625.3M713.6 625.3L713.0 619.5M713.6 625.3L688.3 633.9M688.3 633.9L672.3 637.8M672.3 637.8L665.1 648.3M665.1 648.3L671.7 678.0M671.7 678.0L685.9 687.4M671.7 678.0L649.7 708.8M685.9 687.4L687.4 735.6M685.9 687.4L715.7 689.8M715.7 689.8L738.0 717.2M708.8 653.0L700.4 669.1M700.4 669.1L685.9 687.4M700.4 669.1L715.7 689.8M672.3 637.8L700.4 669.1M708.8 653.0L728.7 633.0M728.7 633.0L749.2 624.8M708.8 653.0L722.7 665.8M722.7 665.8L735.6 661.5M735.6 661.5L750.4 663.4M735.6 661.5L747.7 642.5M687.4 735.6L738.0 717.2M738.0 717.2L748.0 731.0M748.0 731.0L802.8 723.6M738.0 717.2L758.8 693.5M758.8 693.5L763.3 660.6M802.8 723.6L801.3 700.9M802.8 723.6L802.8 743.3M802.8 723.6L827.5 718.5M827.5 718.5L850.1 748.3M802.8 743.3L850.1 748.3M801.3 700.9L816.7 694.4M816.7 694.4L845.6 665.8M845.6 665.8L830.5 648.3M830.5 648.3L826.3 638.2M801.3 700.9L792.0 697.7M792.0 697.7L784.4 653.0M687.4 735.6L649.7 708.8M649.7 708.8L619.9 706.5M649.7 708.8L605.5 720.8M605.5 720.8L583.8 723.6M583.8 723.6L567.8 699.5M605.5 720.8L575.6 743.8M575.6 743.8L566.0 769.6M566.0 769.6L533.4 751.5M533.4 751.5L501.2 748.3M501.2 748.3L481.3 757.0M481.3 757.0L493.1 774.6M493.1 774.6L515.1 785.8M515.1 785.8L533.4 789.9M533.4 789.9L569.9 809.5M566.0 769.6L569.9 809.5M566.0 769.6L593.4 771.4M593.4 771.4L622.6 774.6M622.6 774.6L661.5 754.3M661.5 754.3L687.4 735.6M622.6 774.6L600.0 798.3M600.0 798.3L569.9 809.5M622.6 774.6L637.4 801.9M637.4 801.9L673.8 779.1M673.8 779.1L687.4 735.6M622.6 774.6L619.3 755.2M619.3 755.2L649.7 708.8M619.3 755.2L605.5 720.8M687.4 735.6L696.7 750.2M696.7 750.2L715.4 765.6M715.4 765.6L739.2 761.1M715.4 765.6L724.2 783.6M724.2 783.6L768.5 805.0M739.2 761.1L771.5 769.6M771.5 769.6L802.8 743.3M771.5 769.6L768.5 805.0M739.2 761.1L748.0 731.0M687.4 735.6L703.4 731.0M703.4 731.0L738.0 717.2M687.4 735.6L679.3 709.3M679.3 709.3L685.9 687.4M687.4 735.6L701.9 709.8M701.9 709.8L715.7 689.8M687.4 735.6L651.2 728.2M651.2 728.2L605.5 720.8M651.2 728.2L649.7 708.8M649.1 686.5L649.7 708.8M748.0 731.0L754.6 742.0M754.6 742.0L802.8 743.3M778.7 721.8L802.8 723.6M738.0 717.2L778.7 721.8M673.8 779.1L698.9 774.6M698.9 774.6L715.4 765.6M566.0 769.6L556.3 745.1M556.3 745.1L575.6 743.8M566.0 769.6L533.4 789.9M566.0 769.6L600.0 798.3M637.4 801.9L600.0 798.3M623.5 722.2L605.5 720.8M623.5 722.2L651.2 728.2M751.6 590.9L770.9 582.6M749.2 624.8L781.4 614.2M788.0 642.5L799.8 645.9M802.5 617.6L794.4 587.9M758.8 693.5L801.3 700.9M715.7 689.8L722.7 665.8M673.8 779.1L661.5 754.3M724.2 783.6L739.2 761.1M820.6 624.8L841.7 610.8M845.6 665.8L827.5 718.5M826.3 638.2L841.7 610.8" fill="none" stroke="#e9dcef" stroke-width="4.2" stroke-linecap="round"/><path d="M687.4 735.6L708.8 653.0M708.8 653.0L747.7 642.5M747.7 642.5L749.2 624.8M749.2 624.8L760.6 606.9M760.6 606.9L751.6 590.9M751.6 590.9L746.2 583.0M746.2 583.0L764.2 568.8M764.2 568.8L770.9 582.6M770.9 582.6L794.4 587.9M770.9 582.6L760.6 606.9M760.6 606.9L781.4 614.2M781.4 614.2L802.5 617.6M802.5 617.6L820.6 624.8M781.4 614.2L788.0 642.5M788.0 642.5L784.4 653.0M784.4 653.0L799.8 645.9M799.8 645.9L826.3 638.2M826.3 638.2L820.6 624.8M820.6 624.8L827.5 613.7M827.5 613.7L841.7 610.8M841.7 610.8L846.5 588.9M846.5 588.9L859.1 573.2M794.4 587.9L827.5 613.7M794.4 587.9L800.4 561.9M800.4 561.9L814.6 526.4M764.2 568.8L800.4 561.9M764.2 568.8L759.7 555.9M759.7 555.9L791.4 527.4M791.4 527.4L814.6 526.4M800.4 561.9L824.5 576.2M824.5 576.2L859.1 573.2M794.4 587.9L824.5 576.2M747.7 642.5L784.4 653.0M747.7 642.5L763.3 660.6M763.3 660.6L801.3 700.9M763.3 660.6L784.4 653.0M747.7 642.5L750.4 663.4M750.4 663.4L763.3 660.6M747.7 642.5L728.7 633.0M728.7 633.0L713.6 625.3M713.6 625.3L713.0 619.5M713.6 625.3L688.3 633.9M688.3 633.9L672.3 637.8M672.3 637.8L665.1 648.3M665.1 648.3L671.7 678.0M671.7 678.0L685.9 687.4M671.7 678.0L649.7 708.8M685.9 687.4L687.4 735.6M685.9 687.4L715.7 689.8M715.7 689.8L738.0 717.2M708.8 653.0L700.4 669.1M700.4 669.1L685.9 687.4M700.4 669.1L715.7 689.8M672.3 637.8L700.4 669.1M708.8 653.0L728.7 633.0M728.7 633.0L749.2 624.8M708.8 653.0L722.7 665.8M722.7 665.8L735.6 661.5M735.6 661.5L750.4 663.4M735.6 661.5L747.7 642.5M687.4 735.6L738.0 717.2M738.0 717.2L748.0 731.0M748.0 731.0L802.8 723.6M738.0 717.2L758.8 693.5M758.8 693.5L763.3 660.6M802.8 723.6L801.3 700.9M802.8 723.6L802.8 743.3M802.8 723.6L827.5 718.5M827.5 718.5L850.1 748.3M802.8 743.3L850.1 748.3M801.3 700.9L816.7 694.4M816.7 694.4L845.6 665.8M845.6 665.8L830.5 648.3M830.5 648.3L826.3 638.2M801.3 700.9L792.0 697.7M792.0 697.7L784.4 653.0M687.4 735.6L649.7 708.8M649.7 708.8L619.9 706.5M649.7 708.8L605.5 720.8M605.5 720.8L583.8 723.6M583.8 723.6L567.8 699.5M605.5 720.8L575.6 743.8M575.6 743.8L566.0 769.6M566.0 769.6L533.4 751.5M533.4 751.5L501.2 748.3M501.2 748.3L481.3 757.0M481.3 757.0L493.1 774.6M493.1 774.6L515.1 785.8M515.1 785.8L533.4 789.9M533.4 789.9L569.9 809.5M566.0 769.6L569.9 809.5M566.0 769.6L593.4 771.4M593.4 771.4L622.6 774.6M622.6 774.6L661.5 754.3M661.5 754.3L687.4 735.6M622.6 774.6L600.0 798.3M600.0 798.3L569.9 809.5M622.6 774.6L637.4 801.9M637.4 801.9L673.8 779.1M673.8 779.1L687.4 735.6M622.6 774.6L619.3 755.2M619.3 755.2L649.7 708.8M619.3 755.2L605.5 720.8M687.4 735.6L696.7 750.2M696.7 750.2L715.4 765.6M715.4 765.6L739.2 761.1M715.4 765.6L724.2 783.6M724.2 783.6L768.5 805.0M739.2 761.1L771.5 769.6M771.5 769.6L802.8 743.3M771.5 769.6L768.5 805.0M739.2 761.1L748.0 731.0M687.4 735.6L703.4 731.0M703.4 731.0L738.0 717.2M687.4 735.6L679.3 709.3M679.3 709.3L685.9 687.4M687.4 735.6L701.9 709.8M701.9 709.8L715.7 689.8M687.4 735.6L651.2 728.2M651.2 728.2L605.5 720.8M651.2 728.2L649.7 708.8M649.1 686.5L649.7 708.8M748.0 731.0L754.6 742.0M754.6 742.0L802.8 743.3M778.7 721.8L802.8 723.6M738.0 717.2L778.7 721.8M673.8 779.1L698.9 774.6M698.9 774.6L715.4 765.6M566.0 769.6L556.3 745.1M556.3 745.1L575.6 743.8M566.0 769.6L533.4 789.9M566.0 769.6L600.0 798.3M637.4 801.9L600.0 798.3M623.5 722.2L605.5 720.8M623.5 722.2L651.2 728.2M751.6 590.9L770.9 582.6M749.2 624.8L781.4 614.2M788.0 642.5L799.8 645.9M802.5 617.6L794.4 587.9M758.8 693.5L801.3 700.9M715.7 689.8L722.7 665.8M673.8 779.1L661.5 754.3M724.2 783.6L739.2 761.1M820.6 624.8L841.7 610.8M845.6 665.8L827.5 718.5M826.3 638.2L841.7 610.8" fill="none" stroke="#d6c2e3" stroke-width="1.8" stroke-linecap="round"/>
<path d="M398.2 432.3L392.1 440.2L389.1 448.0L378.6 450.6L370.4 463.1L380.1 471.4L389.1 480.1L396.7 480.6L404.2 466.2L416.2 483.7L427.7 481.7" fill="none" stroke="#6f6f73" stroke-width="1.9" stroke-linejoin="round" opacity=".8"/>
<path d="M693.4 631.1L704.0 649.7L713.0 647.3L728.1 668.6L741.6 670.0L743.1 684.6L762.7 675.7L762.7 692.1L779.3 701.4L791.4 703.7L789.8 687.4L800.4 675.7L809.4 667.2L797.4 647.3L788.3 644.9L792.9 628.2L773.3 621.0L758.2 613.7L744.7 617.1L719.0 621.9" fill="none" stroke="#6f6f73" stroke-width="1.9" stroke-linejoin="round" opacity=".8"/>
<path d="M791.4 703.7L807.9 707.9L812.4 692.1L800.4 675.7" fill="none" stroke="#6f6f73" stroke-width="1.9" stroke-linejoin="round" opacity=".8"/>
<path d="M797.4 647.3L800.4 625.8L803.4 611.3L795.9 596.7L818.5 591.9L821.5 582.1L829.0 574.7L818.5 559.9L829.0 554.9L833.5 527.4" fill="none" stroke="#6f6f73" stroke-width="1.9" stroke-linejoin="round" opacity=".8"/>
<path d="M807.9 707.9L820.0 721.3L839.6 722.2L863.7 730.5" fill="none" stroke="#6f6f73" stroke-width="1.9" stroke-linejoin="round" opacity=".8"/>
</g>
<circle cx="428.0" cy="519.9" r="4.8" fill="#fbe9e6" opacity=".9"/><circle cx="428.0" cy="519.9" r="2.6" fill="#d8392b"/><circle cx="764.2" cy="568.8" r="4.8" fill="#fbe9e6" opacity=".9"/><circle cx="764.2" cy="568.8" r="2.6" fill="#d8392b"/><circle cx="687.4" cy="735.6" r="5.0" fill="#fbe9e6" opacity=".9"/><circle cx="687.4" cy="735.6" r="2.8" fill="#d8392b"/><circle cx="553.3" cy="720.4" r="4.8" fill="#fbe9e6" opacity=".9"/><circle cx="553.3" cy="720.4" r="2.6" fill="#d8392b"/><circle cx="540.1" cy="708.1" r="3.8" fill="#fbe9e6" opacity=".9"/><circle cx="540.1" cy="708.1" r="1.6" fill="#d8392b"/><circle cx="820.6" cy="624.8" r="4.6" fill="#fbe9e6" opacity=".9"/><circle cx="820.6" cy="624.8" r="2.4" fill="#ee8a4a"/>
<g font-family="Liberation Sans, sans-serif">
<text x="457.5" y="376.2" font-size="15.3" fill="#7a7a7a" textLength="63.0" lengthAdjust="spacingAndGlyphs" stroke="#fff" stroke-opacity=".55" stroke-width="2.5" paint-order="stroke" stroke-linejoin="round">Glasgow</text>
<text x="376.7" y="494.6" font-size="15.8" fill="#7a7a7a" textLength="46.1" lengthAdjust="spacingAndGlyphs" stroke="#fff" stroke-opacity=".55" stroke-width="2.5" paint-order="stroke" stroke-linejoin="round">Dublin</text>
<text x="319.4" y="510.0" font-size="13.7" fill="#7a7a7a" textLength="104.3" lengthAdjust="spacingAndGlyphs" stroke="#fff" stroke-opacity=".55" stroke-width="2.5" paint-order="stroke" stroke-linejoin="round">Baile Átha Cliath</text>
<text x="442.9" y="510.0" font-size="13.7" fill="#6f90cf" textLength="52.2" lengthAdjust="spacingAndGlyphs">Irish Sea</text>
<text x="703.1" y="460.2" font-size="13.7" fill="#5f83cb" textLength="63.9" lengthAdjust="spacingAndGlyphs">North Sea</text>
<text x="515.5" y="531.2" font-size="15" fill="#7a7a7a" textLength="75.0" lengthAdjust="spacingAndGlyphs" stroke="#fff" stroke-opacity=".55" stroke-width="2.5" paint-order="stroke" stroke-linejoin="round">Manchester</text>
<text x="514.8" y="581.4" font-size="15.3" fill="#7a7a7a" textLength="79.2" lengthAdjust="spacingAndGlyphs" stroke="#fff" stroke-opacity=".55" stroke-width="2.5" paint-order="stroke" stroke-linejoin="round">Birmingham</text>
<text x="586.0" y="624.0" font-size="15.3" fill="#7a7a7a" textLength="48.0" lengthAdjust="spacingAndGlyphs" stroke="#fff" stroke-opacity=".55" stroke-width="2.5" paint-order="stroke" stroke-linejoin="round">London</text>
<text x="711.0" y="591.0" font-size="19.4" fill="#777" textLength="110.0" lengthAdjust="spacingAndGlyphs" stroke="#fff" stroke-opacity=".55" stroke-width="2.5" paint-order="stroke" stroke-linejoin="round">Amsterdam</text>
<text x="719.1" y="627.7" font-size="20" fill="#777" textLength="92.1" lengthAdjust="spacingAndGlyphs" stroke="#fff" stroke-opacity=".55" stroke-width="2.5" paint-order="stroke" stroke-linejoin="round">Düsseldorf</text>
<text x="666.5" y="757.3" font-size="21.8" fill="#777" textLength="43.2" lengthAdjust="spacingAndGlyphs" stroke="#fff" stroke-opacity=".55" stroke-width="2.5" paint-order="stroke" stroke-linejoin="round">Paris</text>
<text x="496.8" y="698.5" font-size="13.8" fill="#777" textLength="82.8" lengthAdjust="spacingAndGlyphs" stroke="#fff" stroke-opacity=".55" stroke-width="2.5" paint-order="stroke" stroke-linejoin="round">St. Peter Port</text>
<text x="524.3" y="735.5" font-size="13.8" fill="#777" textLength="56.7" lengthAdjust="spacingAndGlyphs" stroke="#fff" stroke-opacity=".55" stroke-width="2.5" paint-order="stroke" stroke-linejoin="round">St. Helier</text>
<text x="306.3" y="540.8" font-size="20.6" fill="#111" textLength="89.7" lengthAdjust="spacingAndGlyphs" font-weight="bold" stroke="#fff" stroke-opacity=".55" stroke-width="2.5" paint-order="stroke" stroke-linejoin="round">IRELAND</text>
<text x="706.9" y="546.9" font-size="15" fill="#222" textLength="116.5" lengthAdjust="spacingAndGlyphs" font-weight="bold" stroke="#fff" stroke-opacity=".55" stroke-width="2.5" paint-order="stroke" stroke-linejoin="round">NETHERLANDS</text>
<text x="714.4" y="656.8" font-size="17.7" fill="#111" textLength="82.7" lengthAdjust="spacingAndGlyphs" font-weight="bold" stroke="#fff" stroke-opacity=".55" stroke-width="2.5" paint-order="stroke" stroke-linejoin="round">BELGIUM</text>
<text x="750.1" y="698.1" font-size="11.2" fill="#222" textLength="85.4" lengthAdjust="spacingAndGlyphs" font-weight="bold" stroke="#fff" stroke-opacity=".55" stroke-width="2.5" paint-order="stroke" stroke-linejoin="round">LUXEMBOURG</text>
<text x="441.6" y="466.8" font-size="10.9" fill="#333" textLength="71.4" lengthAdjust="spacingAndGlyphs" font-weight="bold" stroke="#fff" stroke-opacity=".55" stroke-width="2.5" paint-order="stroke" stroke-linejoin="round">ISLE OF MAN</text>
<text x="468.8" y="479.0" font-size="10.9" fill="#333" textLength="23.5" lengthAdjust="spacingAndGlyphs" font-weight="bold" stroke="#fff" stroke-opacity=".55" stroke-width="2.5" paint-order="stroke" stroke-linejoin="round">(UK)</text>
</g>
<use href="#mn" x="618.2" y="615.6"/>
<use href="#mb" x="648.6" y="616.1"/>
<use href="#mb" x="618.6" y="612.8"/>
<use href="#mb" x="623.4" y="614.5"/>
<use href="#mb" x="627.9" y="612.0"/>
<use href="#mb" x="640.0" y="615.2"/>
<use href="#mb" x="608.5" y="599.4"/>
<use href="#mb" x="608.7" y="604.8"/>
<use href="#mb" x="650.4" y="616.3"/>
<use href="#mb" x="605.7" y="616.7"/>
<use href="#mb" x="612.1" y="628.9"/>
<use href="#mb" x="637.6" y="618.6"/>
<use href="#mb" x="608.9" y="620.0"/>
<use href="#mb" x="602.8" y="604.0"/>
<use href="#mb" x="615.3" y="599.5"/>
<use href="#mb" x="614.7" y="616.4"/>
<use href="#mb" x="618.5" y="602.2"/>
<use href="#mb" x="616.6" y="622.2"/>
<use href="#mb" x="620.4" y="601.0"/>
<use href="#mo" x="633.5" y="617.7"/>
<use href="#mo" x="638.9" y="616.6"/>
<use href="#mn" x="631.2" y="603.3"/>
<use href="#mo" x="611.7" y="620.4"/>
<use href="#mb" x="594.4" y="615.7"/>
<use href="#mb" x="600.1" y="612.6"/>
<use href="#mb" x="620.5" y="600.6"/>
<use href="#mb" x="649.8" y="609.1"/>
<use href="#mb" x="609.3" y="621.9"/>
<use href="#mb" x="645.9" y="616.8"/>
<use href="#mo" x="620.9" y="598.9"/>
<use href="#mb" x="613.0" y="610.1"/>
<use href="#mb" x="634.6" y="590.1"/>
<use href="#mb" x="616.0" y="600.2"/>
<use href="#mb" x="627.4" y="615.6"/>
<use href="#mo" x="620.7" y="608.6"/>
<use href="#mb" x="612.1" y="605.4"/>
<use href="#mb" x="633.3" y="620.8"/>
<use href="#mb" x="615.4" y="597.7"/>
<use href="#mb" x="608.2" y="595.1"/>
<use href="#mo" x="643.1" y="598.7"/>
<use href="#mb" x="613.9" y="597.2"/>
<use href="#mn" x="616.4" y="613.0"/>
<use href="#mb" x="614.1" y="614.2"/>
<use href="#mb" x="615.3" y="611.9"/>
<use href="#mb" x="622.3" y="610.1"/>
<use href="#mb" x="617.7" y="607.2"/>
<use href="#mb" x="615.6" y="605.9"/>
<use href="#mb" x="641.6" y="605.9"/>
<use href="#mb" x="642.9" y="624.9"/>
<use href="#mb" x="609.1" y="611.2"/>
<use href="#mb" x="633.0" y="616.0"/>
<use href="#mb" x="599.2" y="612.3"/>
<use href="#mb" x="613.7" y="608.9"/>
<use href="#mb" x="643.7" y="600.5"/>
<use href="#mn" x="651.7" y="607.0"/>
<use href="#mb" x="610.8" y="627.0"/>
<use href="#mn" x="599.6" y="634.8"/>
<use href="#mb" x="605.6" y="627.6"/>
<use href="#mb" x="590.7" y="626.2"/>
<use href="#mb" x="610.4" y="623.3"/>
<use href="#mb" x="607.6" y="637.5"/>
<use href="#mb" x="621.6" y="631.4"/>
<use href="#mb" x="603.1" y="639.7"/>
<use href="#mb" x="599.3" y="634.7"/>
<use href="#mb" x="595.1" y="632.8"/>
<use href="#mb" x="610.1" y="627.2"/>
<use href="#mb" x="605.3" y="630.0"/>
<use href="#mb" x="618.7" y="627.3"/>
<use href="#mb" x="597.8" y="632.4"/>
<use href="#mb" x="538.2" y="517.2"/>
<use href="#mb" x="539.1" y="521.2"/>
<use href="#mb" x="551.9" y="527.8"/>
<use href="#mn" x="541.8" y="521.8"/>
<use href="#mb" x="553.1" y="524.6"/>
<use href="#mb" x="546.3" y="534.4"/>
<use href="#mb" x="533.5" y="518.1"/>
<use href="#mb" x="542.9" y="521.1"/>
<use href="#mn" x="542.5" y="535.2"/>
<use href="#mb" x="534.8" y="534.9"/>
<use href="#mb" x="553.7" y="530.9"/>
<use href="#mn" x="531.4" y="513.5"/>
<use href="#mn" x="528.9" y="525.9"/>
<use href="#mb" x="542.0" y="515.2"/>
<use href="#mb" x="544.8" y="534.0"/>
<use href="#mn" x="532.5" y="523.5"/>
<use href="#mb" x="560.9" y="497.1"/>
<use href="#mb" x="567.1" y="497.1"/>
<use href="#mn" x="564.7" y="504.8"/>
<use href="#mb" x="565.0" y="498.3"/>
<use href="#mn" x="560.2" y="499.9"/>
<use href="#mb" x="563.6" y="496.3"/>
<use href="#mb" x="560.7" y="499.5"/>
<use href="#mn" x="562.6" y="497.9"/>
<use href="#mb" x="570.7" y="452.7"/>
<use href="#mb" x="572.3" y="442.2"/>
<use href="#mb" x="567.9" y="448.3"/>
<use href="#mb" x="568.2" y="446.8"/>
<use href="#mb" x="575.0" y="452.9"/>
<use href="#mb" x="574.1" y="444.1"/>
<use href="#mb" x="566.8" y="449.1"/>
<use href="#mb" x="573.5" y="450.4"/>
<use href="#mb" x="581.1" y="563.9"/>
<use href="#mb" x="593.8" y="563.7"/>
<use href="#mb" x="573.8" y="557.5"/>
<use href="#mb" x="575.1" y="565.6"/>
<use href="#mb" x="581.0" y="559.8"/>
<use href="#mb" x="590.1" y="559.4"/>
<use href="#mb" x="592.7" y="570.7"/>
<use href="#mb" x="594.7" y="551.5"/>
<use href="#mn" x="573.7" y="564.8"/>
<use href="#mb" x="569.6" y="555.3"/>
<use href="#mb" x="488.3" y="389.0"/>
<use href="#mb" x="520.5" y="384.3"/>
<use href="#mb" x="441.9" y="440.6"/>
<use href="#mb" x="444.3" y="443.4"/>
<use href="#mb" x="445.7" y="445.3"/>
<use href="#mb" x="509.6" y="452.4"/>
<use href="#mb" x="507.7" y="458.6"/>
<use href="#mb" x="525.2" y="439.2"/>
<use href="#mb" x="529.0" y="440.6"/>
<use href="#mb" x="533.7" y="452.0"/>
<use href="#mb" x="570.7" y="427.3"/>
<use href="#mb" x="566.9" y="434.9"/>
<use href="#mb" x="572.5" y="435.9"/>
<use href="#mb" x="574.4" y="440.6"/>
<use href="#mb" x="564.0" y="452.0"/>
<use href="#mb" x="567.8" y="454.8"/>
<use href="#mb" x="579.2" y="451.0"/>
<use href="#mb" x="583.9" y="455.7"/>
<use href="#mb" x="576.3" y="457.6"/>
<use href="#mb" x="568.8" y="460.5"/>
<use href="#mb" x="604.3" y="472.3"/>
<use href="#mb" x="519.5" y="480.8"/>
<use href="#mb" x="570.2" y="486.0"/>
<use href="#mb" x="583.0" y="487.9"/>
<use href="#mb" x="558.3" y="492.7"/>
<use href="#mb" x="569.7" y="494.6"/>
<use href="#mb" x="561.2" y="499.3"/>
<use href="#mb" x="566.9" y="502.1"/>
<use href="#mb" x="574.4" y="502.1"/>
<use href="#mb" x="562.1" y="505.0"/>
<use href="#mb" x="572.5" y="505.0"/>
<use href="#mb" x="534.7" y="498.3"/>
<use href="#mb" x="526.2" y="503.1"/>
<use href="#mb" x="523.3" y="508.8"/>
<use href="#mb" x="529.9" y="511.6"/>
<use href="#mb" x="548.9" y="511.6"/>
<use href="#mb" x="590.5" y="501.2"/>
<use href="#mb" x="596.2" y="506.9"/>
<use href="#mb" x="606.2" y="497.9"/>
<use href="#mb" x="614.2" y="507.8"/>
<use href="#mb" x="582.0" y="510.7"/>
<use href="#mb" x="526.2" y="503.8"/>
<use href="#mb" x="535.6" y="500.9"/>
<use href="#mb" x="562.1" y="504.7"/>
<use href="#mb" x="570.7" y="502.8"/>
<use href="#mb" x="582.0" y="510.4"/>
<use href="#mb" x="587.7" y="502.8"/>
<use href="#mb" x="596.2" y="507.1"/>
<use href="#mb" x="606.6" y="501.9"/>
<use href="#mb" x="614.2" y="508.5"/>
<use href="#mb" x="476.9" y="521.8"/>
<use href="#mb" x="487.3" y="529.3"/>
<use href="#mb" x="490.2" y="525.1"/>
<use href="#mb" x="504.4" y="522.2"/>
<use href="#mb" x="510.5" y="521.3"/>
<use href="#mb" x="523.3" y="515.1"/>
<use href="#mb" x="529.0" y="512.3"/>
<use href="#mb" x="534.7" y="514.2"/>
<use href="#mb" x="540.4" y="516.1"/>
<use href="#mb" x="548.9" y="512.3"/>
<use href="#mb" x="547.9" y="518.9"/>
<use href="#mb" x="523.3" y="523.7"/>
<use href="#mb" x="530.9" y="521.8"/>
<use href="#mb" x="536.6" y="527.5"/>
<use href="#mb" x="544.1" y="524.6"/>
<use href="#mb" x="551.7" y="523.7"/>
<use href="#mb" x="525.2" y="531.2"/>
<use href="#mb" x="533.7" y="532.2"/>
<use href="#mb" x="540.4" y="534.1"/>
<use href="#mb" x="550.8" y="535.0"/>
<use href="#mb" x="525.2" y="540.7"/>
<use href="#mb" x="530.9" y="542.6"/>
<use href="#mb" x="552.7" y="538.8"/>
<use href="#mb" x="559.3" y="541.7"/>
<use href="#mb" x="533.7" y="551.1"/>
<use href="#mb" x="542.2" y="553.0"/>
<use href="#mb" x="552.7" y="549.2"/>
<use href="#mb" x="561.2" y="553.0"/>
<use href="#mb" x="600.0" y="525.6"/>
<use href="#mb" x="626.5" y="530.3"/>
<use href="#mb" x="572.5" y="540.7"/>
<use href="#mb" x="576.3" y="537.9"/>
<use href="#mb" x="582.0" y="539.8"/>
<use href="#mb" x="596.2" y="541.7"/>
<use href="#mb" x="603.8" y="536.9"/>
<use href="#mb" x="615.1" y="538.8"/>
<use href="#mb" x="590.5" y="548.3"/>
<use href="#mb" x="611.4" y="547.3"/>
<use href="#mb" x="582.0" y="553.0"/>
<use href="#mb" x="628.4" y="549.2"/>
<use href="#mb" x="620.8" y="554.0"/>
<use href="#mb" x="547.0" y="566.3"/>
<use href="#mb" x="558.3" y="558.7"/>
<use href="#mb" x="570.7" y="562.5"/>
<use href="#mb" x="579.2" y="566.3"/>
<use href="#mb" x="569.7" y="572.9"/>
<use href="#mb" x="549.8" y="577.6"/>
<use href="#mb" x="558.3" y="572.0"/>
<use href="#mb" x="493.5" y="565.3"/>
<use href="#mb" x="534.7" y="583.3"/>
<use href="#mb" x="606.6" y="557.8"/>
<use href="#mb" x="609.5" y="560.6"/>
<use href="#mb" x="596.2" y="567.2"/>
<use href="#mb" x="588.6" y="574.8"/>
<use href="#mb" x="601.9" y="578.6"/>
<use href="#mb" x="610.4" y="569.1"/>
<use href="#mb" x="620.8" y="575.7"/>
<use href="#mb" x="638.8" y="565.3"/>
<use href="#mb" x="637.9" y="575.7"/>
<use href="#mb" x="629.3" y="582.4"/>
<use href="#mb" x="644.5" y="553.0"/>
<use href="#mb" x="655.9" y="555.9"/>
<use href="#mb" x="668.6" y="555.9"/>
<use href="#mb" x="669.1" y="563.4"/>
<use href="#mb" x="651.1" y="583.3"/>
<use href="#mb" x="652.1" y="597.5"/>
<use href="#mb" x="490.7" y="602.2"/>
<use href="#mb" x="518.6" y="599.4"/>
<use href="#mb" x="525.2" y="602.2"/>
<use href="#mb" x="538.5" y="609.8"/>
<use href="#mb" x="535.6" y="616.4"/>
<use href="#mb" x="527.1" y="619.3"/>
<use href="#mb" x="549.8" y="619.3"/>
<use href="#mb" x="579.2" y="599.4"/>
<use href="#mb" x="562.1" y="607.9"/>
<use href="#mb" x="600.9" y="589.9"/>
<use href="#mb" x="608.5" y="588.0"/>
<use href="#mb" x="615.1" y="594.7"/>
<use href="#mb" x="619.9" y="590.9"/>
<use href="#mb" x="625.6" y="596.6"/>
<use href="#mb" x="633.1" y="594.7"/>
<use href="#mb" x="638.8" y="597.5"/>
<use href="#mb" x="593.4" y="604.1"/>
<use href="#mb" x="600.9" y="602.2"/>
<use href="#mb" x="606.6" y="607.0"/>
<use href="#mb" x="613.3" y="604.1"/>
<use href="#mb" x="619.9" y="608.9"/>
<use href="#mb" x="626.5" y="606.0"/>
<use href="#mb" x="633.1" y="610.8"/>
<use href="#mb" x="645.4" y="602.2"/>
<use href="#mb" x="587.7" y="613.6"/>
<use href="#mb" x="595.3" y="615.5"/>
<use href="#mb" x="602.8" y="618.3"/>
<use href="#mb" x="610.4" y="615.5"/>
<use href="#mb" x="617.0" y="619.3"/>
<use href="#mb" x="624.6" y="617.4"/>
<use href="#mb" x="632.2" y="621.2"/>
<use href="#mb" x="638.8" y="619.3"/>
<use href="#mb" x="646.4" y="622.1"/>
<use href="#mb" x="654.0" y="623.1"/>
<use href="#mb" x="583.0" y="622.1"/>
<use href="#mb" x="591.5" y="625.0"/>
<use href="#mb" x="599.1" y="625.9"/>
<use href="#mb" x="606.6" y="628.8"/>
<use href="#mb" x="615.1" y="626.9"/>
<use href="#mb" x="622.7" y="629.7"/>
<use href="#mb" x="630.3" y="627.8"/>
<use href="#mb" x="637.9" y="630.7"/>
<use href="#mb" x="645.4" y="628.8"/>
<use href="#mb" x="652.1" y="631.6"/>
<use href="#mb" x="659.6" y="629.7"/>
<use href="#mb" x="571.6" y="623.1"/>
<use href="#mb" x="562.1" y="630.7"/>
<use href="#mb" x="576.3" y="630.7"/>
<use href="#mb" x="494.0" y="630.7"/>
<use href="#mb" x="525.2" y="629.7"/>
<use href="#mb" x="536.6" y="634.4"/>
<use href="#mn" x="550.8" y="591.8"/>
<use href="#mn" x="657.8" y="617.4"/>
<use href="#mo" x="549.8" y="555.9"/>
<use href="#mo" x="558.3" y="562.5"/>
<use href="#mo" x="553.6" y="568.2"/>
<use href="#mo" x="655.9" y="589.9"/>
<use href="#mo" x="641.7" y="590.9"/>
<use href="#mo" x="639.8" y="607.0"/>
<use href="#mo" x="498.7" y="605.1"/>
<use href="#mo" x="504.4" y="603.2"/>
<use href="#mo" x="512.0" y="598.5"/>
<use href="#mo" x="515.7" y="600.4"/>
<use href="#mo" x="509.1" y="611.7"/>
<use href="#mo" x="518.6" y="610.8"/>
<use href="#mo" x="523.3" y="607.0"/>
<use href="#mo" x="515.7" y="617.4"/>
<use href="#mb" x="456.6" y="672.9"/>
<use href="#mb" x="472.2" y="666.3"/>
<use href="#mb" x="491.6" y="664.4"/>
<use href="#mb" x="508.6" y="658.7"/>
<use href="#mb" x="512.0" y="653.0"/>
<use href="#mb" x="509.6" y="648.3"/>
<use href="#mb" x="520.5" y="643.6"/>
<use href="#mb" x="524.3" y="629.3"/>
<use href="#mb" x="522.4" y="635.0"/>
<use href="#mb" x="537.5" y="637.9"/>
<use href="#mb" x="542.2" y="653.5"/>
<use href="#mb" x="558.8" y="648.3"/>
<use href="#mb" x="577.3" y="649.2"/>
<use href="#mb" x="582.0" y="643.6"/>
<use href="#mb" x="572.5" y="637.9"/>
<use href="#mb" x="562.1" y="631.7"/>
<use href="#mb" x="571.6" y="623.7"/>
<use href="#mb" x="576.3" y="631.2"/>
<use href="#mb" x="589.6" y="641.7"/>
<use href="#mb" x="596.2" y="644.5"/>
<use href="#mb" x="604.7" y="642.6"/>
<use href="#mb" x="613.3" y="642.6"/>
<use href="#mb" x="624.6" y="645.4"/>
<use href="#mb" x="634.1" y="641.7"/>
<use href="#mb" x="583.0" y="621.8"/>
<use href="#mb" x="593.4" y="621.8"/>
<use href="#mb" x="607.6" y="630.3"/>
<use href="#mb" x="613.3" y="627.5"/>
<use href="#mb" x="623.7" y="628.4"/>
<use href="#mb" x="633.1" y="621.8"/>
<use href="#mb" x="642.6" y="627.5"/>
<use href="#mb" x="652.1" y="631.2"/>
<use href="#mb" x="656.8" y="627.5"/>
<use href="#mb" x="646.4" y="620.8"/>
<use href="#mb" x="587.7" y="612.3"/>
<use href="#mb" x="595.3" y="610.4"/>
<use href="#mb" x="602.8" y="614.2"/>
<use href="#mb" x="610.4" y="611.4"/>
<use href="#mb" x="618.0" y="615.1"/>
<use href="#mb" x="625.6" y="609.5"/>
<use href="#mb" x="632.2" y="614.2"/>
<use href="#mb" x="527.1" y="618.9"/>
<use href="#mb" x="538.5" y="612.3"/>
<use href="#mb" x="549.8" y="619.9"/>
<use href="#mn" x="658.7" y="618.0"/>
<use href="#mo" x="638.8" y="612.3"/>
<use href="#mo" x="496.8" y="607.6"/>
<use href="#mo" x="506.3" y="611.4"/>
<use href="#mo" x="515.7" y="614.2"/>
<use href="#mo" x="520.5" y="610.4"/>
<g font-family="Liberation Sans, sans-serif">
<text x="524.7" y="417.4" font-size="23.2" fill="#111" textLength="83.8" lengthAdjust="spacingAndGlyphs" font-weight="bold" stroke="#fff" stroke-opacity=".55" stroke-width="2.5" paint-order="stroke" stroke-linejoin="round">UNITED</text>
<text x="509.6" y="443.9" font-size="23.2" fill="#111" textLength="111.7" lengthAdjust="spacingAndGlyphs" font-weight="bold" stroke="#fff" stroke-opacity=".55" stroke-width="2.5" paint-order="stroke" stroke-linejoin="round">KINGDOM</text>
</g>
<use href="#mb" x="570.7" y="452.7"/>
<use href="#mb" x="572.3" y="442.2"/>
<use href="#mb" x="567.9" y="448.3"/>
<use href="#mb" x="568.2" y="446.8"/>
<use href="#mb" x="575.0" y="452.9"/>
<use href="#mb" x="574.1" y="444.1"/>
<use href="#mb" x="566.8" y="449.1"/>
<use href="#mb" x="573.5" y="450.4"/>
<use href="#mb" x="525.2" y="439.2"/>
<use href="#mb" x="529.0" y="440.6"/>
<use href="#mb" x="533.7" y="452.0"/>
<use href="#mb" x="570.7" y="427.3"/>
<use href="#mb" x="566.9" y="434.9"/>
<use href="#mb" x="572.5" y="435.9"/>
<use href="#mb" x="574.4" y="440.6"/>
<use href="#mb" x="564.0" y="452.0"/>
<use href="#mb" x="567.8" y="454.8"/>
<use href="#mb" x="579.2" y="451.0"/>
<use href="#mb" x="583.9" y="455.7"/>
<use href="#mb" x="576.3" y="457.6"/>
<use href="#mb" x="568.8" y="460.5"/>
<rect x="287" y="772" width="5.6" height="5.6" fill="#f25022"/><rect x="293.4" y="772" width="5.6" height="5.6" fill="#7fba00"/><rect x="287" y="778.4" width="5.6" height="5.6" fill="#00a4ef"/><rect x="293.4" y="778.4" width="5.6" height="5.6" fill="#ffb900"/>
<g font-family="Liberation Sans, sans-serif"><text x="302" y="783" font-size="10.8" fill="#737373">Microsoft Bing</text>
<text x="504" y="786" font-size="11.6" fill="#333" textLength="249" lengthAdjust="spacingAndGlyphs" stroke="#fff" stroke-opacity=".55" stroke-width="2.5" paint-order="stroke" stroke-linejoin="round">© 2022 TomTom, © 2022 Microsoft Corporation</text>
<text x="763" y="786" font-size="11.6" fill="#4a6ea8" text-decoration="underline" textLength="31" lengthAdjust="spacingAndGlyphs">Terms</text></g>
</symbol></defs></svg>
<svg class="abs" style="left:279.5px;top:261.6px;filter:blur(.4px)" width="548.5" height="535.4"><use href="#map" width="548.5" height="535.4"/></svg>
<svg class="abs" style="left:848px;top:261.6px;filter:blur(.4px)" width="548.5" height="535.4"><use href="#map" width="548.5" height="535.4"/></svg>
<svg class="abs" style="left:420.0px;top:806px" width="300" height="22" viewBox="420 806 300 22"><circle cx="434.8" cy="816.6" r="6.4" fill="#1c8ffc"/><circle cx="494.6" cy="816.6" r="6.4" fill="#12239e"/><circle cx="570.4" cy="816.6" r="6.4" fill="#e66c37"/><g font-family="Liberation Sans, sans-serif" font-weight="bold" font-size="14.2" fill="#5d5f66" lengthAdjust="spacingAndGlyphs"><text x="444.7" y="822" textLength="36.4" lengthAdjust="spacingAndGlyphs">Adult</text><text x="503.9" y="822" textLength="53" lengthAdjust="spacingAndGlyphs">Juvenile</text><text x="580" y="822" textLength="93.2" lengthAdjust="spacingAndGlyphs">Unknown Age</text></g></svg>
<svg class="abs" style="left:988.5px;top:806px" width="300" height="22" viewBox="420 806 300 22"><circle cx="434.8" cy="816.6" r="6.4" fill="#1c8ffc"/><circle cx="494.6" cy="816.6" r="6.4" fill="#12239e"/><circle cx="570.4" cy="816.6" r="6.4" fill="#e66c37"/><g font-family="Liberation Sans, sans-serif" font-weight="bold" font-size="14.2" fill="#5d5f66" lengthAdjust="spacingAndGlyphs"><text x="444.7" y="822" textLength="36.4" lengthAdjust="spacingAndGlyphs">Adult</text><text x="503.9" y="822" textLength="53" lengthAdjust="spacingAndGlyphs">Juvenile</text><text x="580" y="822" textLength="93.2" lengthAdjust="spacingAndGlyphs">Unknown Age</text></g></svg>
<!--/MAPS-->
<!-- LINE CHART -->
<div class="panel" style="left:1411px;top:212.3px;width:1121px;height:625.7px"></div>
<div class="t" style="top:222.89px;font-size:20.80px;color:#707070;left:1693.05px;width:557.11px;text-align:center;transform:scaleX(0.9770);">Total Searches (Same Period Last Year Comparison)</div>
<div class="hline" style="left:1411px;top:257.6px;width:1121px;height:2.8px"></div>
<!--LINECHART-->
<svg class="abs" style="left:1411px;top:262px" width="1121" height="576" viewBox="1411 262 1121 576">
<line x1="1457" y1="320.8" x2="2526" y2="320.8" stroke="#c6cad8" stroke-width="1.1" stroke-dasharray="1.3 7"/>
<line x1="1457" y1="419.7" x2="2526" y2="419.7" stroke="#c6cad8" stroke-width="1.1" stroke-dasharray="1.3 7"/>
<line x1="1457" y1="518.6" x2="2526" y2="518.6" stroke="#c6cad8" stroke-width="1.1" stroke-dasharray="1.3 7"/>
<line x1="1457" y1="617.5" x2="2526" y2="617.5" stroke="#c6cad8" stroke-width="1.1" stroke-dasharray="1.3 7"/>
<line x1="1457" y1="716.4" x2="2526" y2="716.4" stroke="#c6cad8" stroke-width="1.1" stroke-dasharray="1.3 7"/>
<polyline points="1493.4,534.1 1584.0,625.3 1674.5,617.1 1765.1,494.9 1855.6,283.0 1946.2,465.7 2036.7,527.3 2127.2,653.5 2217.8,647.6 2308.3,518.6 2398.9,528.6 2489.4,624.3" fill="none" stroke="#b2b2b2" stroke-width="3.6" stroke-linejoin="round" stroke-linecap="round"/>
<polyline points="1493.4,607.0 1584.0,560.1 1674.5,543.2 1765.1,611.1 1855.6,647.6 1946.2,708.2 2036.7,729.6 2127.2,700.5 2217.8,750.1 2308.3,665.8 2398.9,709.6 2489.4,751.5" fill="none" stroke="#155bd5" stroke-width="3.6" stroke-linejoin="round" stroke-linecap="round"/>
<g font-family="Liberation Sans, sans-serif" font-weight="bold" font-size="13.6" fill="#62656d">
<text x="1445" y="325.8" text-anchor="end">80K</text>
<text x="1445" y="424.7" text-anchor="end">70K</text>
<text x="1445" y="523.6" text-anchor="end">60K</text>
<text x="1445" y="622.5" text-anchor="end">50K</text>
<text x="1445" y="721.4" text-anchor="end">40K</text>
<text x="1493.4" y="785.8" text-anchor="middle" font-size="14.6">2021-01</text>
<text x="1584.0" y="785.8" text-anchor="middle" font-size="14.6">2021-02</text>
<text x="1674.5" y="785.8" text-anchor="middle" font-size="14.6">2021-03</text>
<text x="1765.1" y="785.8" text-anchor="middle" font-size="14.6">2021-04</text>
<text x="1855.6" y="785.8" text-anchor="middle" font-size="14.6">2021-05</text>
<text x="1946.2" y="785.8" text-anchor="middle" font-size="14.6">2021-06</text>
<text x="2036.7" y="785.8" text-anchor="middle" font-size="14.6">2021-07</text>
<text x="2127.2" y="785.8" text-anchor="middle" font-size="14.6">2021-08</text>
<text x="2217.8" y="785.8" text-anchor="middle" font-size="14.6">2021-09</text>
<text x="2308.3" y="785.8" text-anchor="middle" font-size="14.6">2021-10</text>
<text x="2398.9" y="785.8" text-anchor="middle" font-size="14.6">2021-11</text>
<text x="2489.4" y="785.8" text-anchor="middle" font-size="14.6">2021-12</text>
</g>
<circle cx="1782.5" cy="815.5" r="6" fill="#155bd5"/><circle cx="1899" cy="815.5" r="6" fill="#b3b3b3"/>
<g font-family="Liberation Sans, sans-serif" font-weight="bold" font-size="13.5" fill="#62656d"><text x="1791" y="820.2">Total Searches</text><text x="1908" y="820.2">Total Searches (Same Period Last Year)</text></g>
</svg>
<!--/LINECHART-->
<!-- DONUT -->
<div class="panel" style="left:273.5px;top:848.7px;width:629px;height:522.7px"></div>
<div class="t" style="top:860.49px;font-size:20.80px;color:#707070;left:456.45px;width:263.10px;text-align:center;transform:scaleX(0.9762);">Total Searches By Age</div>
<div class="hline" style="left:273.5px;top:890px;width:629px;height:2.8px"></div>
<!--DONUT-->
<svg class="abs" style="left:274px;top:893px" width="628" height="478" viewBox="274 893 628 478">
<path d="M587.60 961.90 A168.3 168.3 0 0 1 588.13 961.90 L588.02 995.60 A134.6 134.6 0 0 0 587.60 995.60 Z" fill="#118dff"/>
<path d="M588.13 961.90 A168.3 168.3 0 0 1 728.56 1038.24 L700.33 1056.66 A134.6 134.6 0 0 0 588.02 995.60 Z" fill="#12239e"/>
<path d="M728.56 1038.24 A168.3 168.3 0 0 1 633.44 1292.14 L624.26 1259.71 A134.6 134.6 0 0 0 700.33 1056.66 Z" fill="#e66c37"/>
<path d="M633.44 1292.14 A168.3 168.3 0 0 1 439.76 1210.63 L469.37 1194.52 A134.6 134.6 0 0 0 624.26 1259.71 Z" fill="#6b007b"/>
<path d="M439.76 1210.63 A168.3 168.3 0 0 1 461.71 1018.51 L486.92 1040.87 A134.6 134.6 0 0 0 469.37 1194.52 Z" fill="#e044a7"/>
<path d="M461.71 1018.51 A168.3 168.3 0 0 1 587.60 961.90 L587.60 995.60 A134.6 134.6 0 0 0 486.92 1040.87 Z" fill="#744ec2"/>
<polyline points="587.6,958.0 587.6,941.5 603.2,941.5" fill="none" stroke="#9a9a9a" stroke-width="1"/>
<polyline points="670.2,978.5 679.2,964.5 692.4,964.5" fill="none" stroke="#9a9a9a" stroke-width="1"/>
<polyline points="495.1,958.8 508.3,958.8 516.9,972.8" fill="none" stroke="#9a9a9a" stroke-width="1"/>
<polyline points="399.7,1052.9 414.1,1052.9 429.7,1059.9" fill="none" stroke="#9a9a9a" stroke-width="1"/>
<polyline points="704.7,1258.0 716.2,1269.5 731.8,1269.5" fill="none" stroke="#9a9a9a" stroke-width="1"/>
<polyline points="499.2,1304.9 514.0,1304.9 520.6,1289.2" fill="none" stroke="#9a9a9a" stroke-width="1"/>
<g font-family="Liberation Sans, sans-serif" font-weight="bold" font-size="14.4" fill="#605e5c">
<text x="609.4" y="947.8" text-anchor="start">under 10 276 (0.05%)</text>
<text x="699.8" y="970.8" text-anchor="start">10-17 85,284 (15.75%)</text>
<text x="488.1" y="964.6" text-anchor="end">Unknown 72,822 (13.45%)</text>
<text x="393.6" y="1050.1" text-anchor="end">over 34</text>
<text x="393.6" y="1069.8" text-anchor="end">105,471 (19.4...)</text>
<text x="737.6" y="1266.3" text-anchor="start">18-24</text>
<text x="737.6" y="1286.0" text-anchor="start">161,439 (29.81%)</text>
<text x="492.2" y="1311.1" text-anchor="end">25-34 116,209 (21.46%)</text>
</g>
<text x="587.6" y="1083.8" text-anchor="middle" font-family="Liberation Sans, sans-serif" font-weight="bold" font-size="16.9" fill="#b4b4b4">Selected Total Searches</text>
<text x="587.6" y="1159" text-anchor="middle" font-family="Liberation Sans, sans-serif" font-weight="bold" font-size="44.5" fill="#7f7f7f">541,501</text>
</svg>
<!--/DONUT-->
<!-- TABLE -->
<div class="panel" style="left:909.5px;top:848.7px;width:1622.5px;height:522.7px"></div>
<div class="t" style="top:860.49px;font-size:20.80px;color:#707070;left:1568.74px;width:304.33px;text-align:center;transform:scaleX(0.9783);">Total Searches Breakdown</div>
<div class="hline" style="left:909.5px;top:890px;width:1622.5px;height:2.8px"></div>
<!--TABLE-->
<svg width="0" height="0" style="position:absolute"><defs><symbol id="dn" viewBox="0 0 20 22"><path d="M10 .3V17M1.4 9L10 17.6L18.6 9" fill="none" stroke="#27633a" stroke-width="3.7" stroke-linejoin="miter"/><path d="M10 1.3V17M2.2 9.8L10 17.6L17.8 9.8" fill="none" stroke="#55a466" stroke-width="1.4"/></symbol><symbol id="up" viewBox="0 0 20 22"><path d="M10 21.7V5M1.4 13L10 4.4L18.6 13" fill="none" stroke="#b3261c" stroke-width="3.7" stroke-linejoin="miter"/><path d="M10 20.7V5M2.2 12.2L10 4.4L17.8 12.2" fill="none" stroke="#f26a58" stroke-width="1.4"/></symbol></defs></svg>
<style>#tb{position:absolute;left:0;top:0;width:2539px;height:1426px;font-size:16.4px;color:#666a74}#tb .h{position:absolute;white-space:nowrap;line-height:20px}#tb .hb{font-weight:bold;color:#5d606a}#tbody{position:absolute;left:0;top:976px;width:2512px;height:367.7px;overflow:hidden}.r{position:absolute;left:0;width:2539px;height:22.5px;line-height:22.5px;white-space:nowrap}.r b,.r i,.r u{position:absolute;top:0;font-style:normal;text-decoration:none}.r b{font-weight:bold;color:#252423;letter-spacing:.45px;margin-right:-.45px}.r i{font-weight:normal}.r u{left:0}.r .lb{font-weight:bold;color:#3a3d45;letter-spacing:.3px}.r svg{position:absolute;top:-1px;width:20px;height:22px}.ex{position:absolute;top:5.5px;width:11.5px;height:11.5px;border:1.3px solid #a3a3a3}.ex:after{content:"";position:absolute;left:1.6px;right:1.6px;top:3.8px;height:1.3px;background:#a3a3a3}</style>
<div id="tb">
<div class="h" style="left:923.0px;top:899.1px">Gender</div>
<div class="h" style="left:923.0px;top:921.4px">Age Range (Grouped)</div>
<div class="h" style="left:1222.2px;top:899.1px">Female</div>
<div class="h" style="left:1222.2px;top:921.4px">Searches</div>
<div class="h" style="left:1305.9px;top:921.4px">Searches</div>
<div class="h" style="left:1305.9px;top:944.3px">(SPLY)</div>
<div class="h" style="left:1419.1px;top:921.4px">Trend</div>
<div class="h" style="left:1477.5px;top:899.1px">Male</div>
<div class="h" style="left:1477.5px;top:921.4px">Searches</div>
<div class="h" style="left:1560.5px;top:921.4px">Searches</div>
<div class="h" style="left:1560.5px;top:944.3px">(SPLY)</div>
<div class="h" style="left:1682.6px;top:921.4px">Trend</div>
<div class="h" style="left:1740.3px;top:899.1px">Other</div>
<div class="h" style="left:1740.3px;top:921.4px">Searches</div>
<div class="h" style="left:1824.3px;top:921.4px">Searches</div>
<div class="h" style="left:1824.3px;top:944.3px">(SPLY)</div>
<div class="h" style="left:1942.1px;top:921.4px">Trend</div>
<div class="h" style="left:1999.9px;top:899.1px">Unknown</div>
<div class="h" style="left:1999.9px;top:921.4px">Searches</div>
<div class="h" style="left:2083.6px;top:921.4px">Searches</div>
<div class="h" style="left:2083.6px;top:944.3px">(SPLY)</div>
<div class="h" style="left:2190.2px;top:921.4px">Trend</div>
<div class="h hb" style="left:2248.3px;top:899.1px">Total</div>
<div class="h hb" style="left:2248.3px;top:921.4px">Searches</div>
<div class="h hb" style="left:2335.9px;top:921.4px">Searches</div>
<div class="h hb" style="left:2335.9px;top:944.3px">(SPLY)</div>
<div class="h hb" style="left:2455.0px;top:921.4px">Trend</div>
<svg class="abs" style="left:923px;top:964.6px" width="13" height="8" viewBox="0 0 13 8"><path d="M0.3 7.3L6.4 .8L12.5 7.3Z" fill="#3e4248"/></svg>
<div class="abs" style="left:916px;top:975px;width:1593px;height:1.2px;background:#c9ccd6"></div>
<div class="abs" style="left:1214px;top:976px;width:1.3px;height:390px;background:#c4c7d2"></div>
<div id="tbody">
<div class="r" style="top:1.8px"><span class="ex" style="left:923.6px"></span><u class="lb" style="left:946.9px">Adult</u><b style="right:1247.5px">38,275</b><b style="right:1134.3px">45,070</b><svg style="left:1441.3px"><use href="#dn"/></svg><b style="right:992.6px">339,413</b><b style="right:871.2px">432,755</b><svg style="left:1704.7px"><use href="#dn"/></svg><b style="right:729.7px">385</b><b style="right:611.6px">430</b><svg style="left:1964.3px"><use href="#dn"/></svg><b style="right:469.9px">5,046</b><b style="right:363.2px">17,532</b><svg style="left:2212.0px"><use href="#dn"/></svg><b style="right:217.5px">383,119</b><b style="right:98.8px">495,787</b><svg style="left:2481.1px"><use href="#dn"/></svg></div>
<div class="r" style="top:24.2px"><span class="ex" style="left:936.7px"></span><u class="lb" style="left:960.0px">18-24</u><b style="right:1247.5px">14,104</b><b style="right:1134.3px">17,685</b><svg style="left:1441.3px"><use href="#dn"/></svg><b style="right:992.6px">144,684</b><b style="right:871.2px">197,665</b><svg style="left:1704.7px"><use href="#dn"/></svg><b style="right:729.7px">195</b><b style="right:611.6px">198</b><svg style="left:1964.3px"><use href="#dn"/></svg><b style="right:469.9px">2,456</b><b style="right:363.2px">7,986</b><svg style="left:2212.0px"><use href="#dn"/></svg><b style="right:217.5px">161,439</b><b style="right:98.8px">223,534</b><svg style="left:2481.1px"><use href="#dn"/></svg></div>
<div class="r" style="top:46.8px"><u style="left:973.5px">Person and Vehicle search</u><i style="right:1247.5px">3,654</i><i style="right:1134.3px">5,027</i><svg style="left:1441.3px"><use href="#dn"/></svg><i style="right:992.6px">41,940</i><i style="right:871.2px">61,630</i><svg style="left:1704.7px"><use href="#dn"/></svg><i style="right:729.7px">42</i><i style="right:611.6px">47</i><svg style="left:1964.3px"><use href="#dn"/></svg><i style="right:469.9px">504</i><i style="right:363.2px">1,734</i><svg style="left:2212.0px"><use href="#dn"/></svg><b style="right:217.5px">46,140</b><b style="right:98.8px">68,438</b><svg style="left:2481.1px"><use href="#dn"/></svg></div>
<div class="r" style="top:69.2px"><u style="left:973.5px">Person search</u><i style="right:1247.5px">10,428</i><i style="right:1134.3px">12,631</i><svg style="left:1441.3px"><use href="#dn"/></svg><i style="right:992.6px">102,552</i><i style="right:871.2px">135,695</i><svg style="left:1704.7px"><use href="#dn"/></svg><i style="right:729.7px">153</i><i style="right:611.6px">151</i><svg style="left:1964.3px"><use href="#up"/></svg><i style="right:469.9px">1,906</i><i style="right:363.2px">6,186</i><svg style="left:2212.0px"><use href="#dn"/></svg><b style="right:217.5px">115,039</b><b style="right:98.8px">154,663</b><svg style="left:2481.1px"><use href="#dn"/></svg></div>
<div class="r" style="top:91.8px"><u style="left:973.5px">Vehicle search</u><i style="right:1247.5px">22</i><i style="right:1134.3px">27</i><svg style="left:1441.3px"><use href="#dn"/></svg><i style="right:992.6px">192</i><i style="right:871.2px">340</i><svg style="left:1704.7px"><use href="#dn"/></svg><i style="right:469.9px">46</i><i style="right:363.2px">66</i><svg style="left:2212.0px"><use href="#dn"/></svg><b style="right:217.5px">260</b><b style="right:98.8px">433</b><svg style="left:2481.1px"><use href="#dn"/></svg></div>
<div class="r" style="top:114.2px"><span class="ex" style="left:936.7px"></span><u class="lb" style="left:960.0px">25-34</u><b style="right:1247.5px">11,081</b><b style="right:1134.3px">13,165</b><svg style="left:1441.3px"><use href="#dn"/></svg><b style="right:992.6px">103,562</b><b style="right:871.2px">130,841</b><svg style="left:1704.7px"><use href="#dn"/></svg><b style="right:729.7px">97</b><b style="right:611.6px">118</b><svg style="left:1964.3px"><use href="#dn"/></svg><b style="right:469.9px">1,469</b><b style="right:363.2px">5,224</b><svg style="left:2212.0px"><use href="#dn"/></svg><b style="right:217.5px">116,209</b><b style="right:98.8px">149,348</b><svg style="left:2481.1px"><use href="#dn"/></svg></div>
<div class="r" style="top:136.8px"><u style="left:973.5px">Person and Vehicle search</u><i style="right:1247.5px">2,465</i><i style="right:1134.3px">3,156</i><svg style="left:1441.3px"><use href="#dn"/></svg><i style="right:992.6px">33,424</i><i style="right:871.2px">44,576</i><svg style="left:1704.7px"><use href="#dn"/></svg><i style="right:729.7px">22</i><i style="right:611.6px">33</i><svg style="left:1964.3px"><use href="#dn"/></svg><i style="right:469.9px">389</i><i style="right:363.2px">1,346</i><svg style="left:2212.0px"><use href="#dn"/></svg><b style="right:217.5px">36,300</b><b style="right:98.8px">49,111</b><svg style="left:2481.1px"><use href="#dn"/></svg></div>
<div class="r" style="top:159.2px"><u style="left:973.5px">Person search</u><i style="right:1247.5px">8,603</i><i style="right:1134.3px">9,994</i><svg style="left:1441.3px"><use href="#dn"/></svg><i style="right:992.6px">69,987</i><i style="right:871.2px">86,005</i><svg style="left:1704.7px"><use href="#dn"/></svg><i style="right:729.7px">74</i><i style="right:611.6px">82</i><svg style="left:1964.3px"><use href="#dn"/></svg><i style="right:469.9px">1,047</i><i style="right:363.2px">3,825</i><svg style="left:2212.0px"><use href="#dn"/></svg><b style="right:217.5px">79,711</b><b style="right:98.8px">99,906</b><svg style="left:2481.1px"><use href="#dn"/></svg></div>
<div class="r" style="top:181.8px"><u style="left:973.5px">Vehicle search</u><i style="right:1247.5px">13</i><i style="right:1134.3px">15</i><svg style="left:1441.3px"><use href="#dn"/></svg><i style="right:992.6px">151</i><i style="right:871.2px">260</i><svg style="left:1704.7px"><use href="#dn"/></svg><i style="right:729.7px">1</i><i style="right:611.6px">3</i><svg style="left:1964.3px"><use href="#dn"/></svg><i style="right:469.9px">33</i><i style="right:363.2px">53</i><svg style="left:2212.0px"><use href="#dn"/></svg><b style="right:217.5px">198</b><b style="right:98.8px">331</b><svg style="left:2481.1px"><use href="#dn"/></svg></div>
<div class="r" style="top:204.2px"><span class="ex" style="left:936.7px"></span><u class="lb" style="left:960.0px">over 34</u><b style="right:1247.5px">13,090</b><b style="right:1134.3px">14,220</b><svg style="left:1441.3px"><use href="#dn"/></svg><b style="right:992.6px">91,167</b><b style="right:871.2px">104,249</b><svg style="left:1704.7px"><use href="#dn"/></svg><b style="right:729.7px">93</b><b style="right:611.6px">114</b><svg style="left:1964.3px"><use href="#dn"/></svg><b style="right:469.9px">1,121</b><b style="right:363.2px">4,322</b><svg style="left:2212.0px"><use href="#dn"/></svg><b style="right:217.5px">105,471</b><b style="right:98.8px">122,905</b><svg style="left:2481.1px"><use href="#dn"/></svg></div>
<div class="r" style="top:226.8px"><u style="left:973.5px">Person and Vehicle search</u><i style="right:1247.5px">2,077</i><i style="right:1134.3px">2,448</i><svg style="left:1441.3px"><use href="#dn"/></svg><i style="right:992.6px">18,807</i><i style="right:871.2px">21,711</i><svg style="left:1704.7px"><use href="#dn"/></svg><i style="right:729.7px">15</i><i style="right:611.6px">13</i><svg style="left:1964.3px"><use href="#up"/></svg><i style="right:469.9px">184</i><i style="right:363.2px">740</i><svg style="left:2212.0px"><use href="#dn"/></svg><b style="right:217.5px">21,083</b><b style="right:98.8px">24,912</b><svg style="left:2481.1px"><use href="#dn"/></svg></div>
<div class="r" style="top:249.2px"><u style="left:973.5px">Person search</u><i style="right:1247.5px">10,997</i><i style="right:1134.3px">11,763</i><svg style="left:1441.3px"><use href="#dn"/></svg><i style="right:992.6px">72,250</i><i style="right:871.2px">82,394</i><svg style="left:1704.7px"><use href="#dn"/></svg><i style="right:729.7px">78</i><i style="right:611.6px">98</i><svg style="left:1964.3px"><use href="#dn"/></svg><i style="right:469.9px">850</i><i style="right:363.2px">3,408</i><svg style="left:2212.0px"><use href="#dn"/></svg><b style="right:217.5px">84,175</b><b style="right:98.8px">97,663</b><svg style="left:2481.1px"><use href="#dn"/></svg></div>
<div class="r" style="top:271.8px"><u style="left:973.5px">Vehicle search</u><i style="right:1247.5px">16</i><i style="right:1134.3px">9</i><svg style="left:1441.3px"><use href="#up"/></svg><i style="right:992.6px">110</i><i style="right:871.2px">144</i><svg style="left:1704.7px"><use href="#dn"/></svg><i style="right:611.6px">3</i><i style="right:469.9px">87</i><i style="right:363.2px">174</i><svg style="left:2212.0px"><use href="#dn"/></svg><b style="right:217.5px">213</b><b style="right:98.8px">330</b><svg style="left:2481.1px"><use href="#dn"/></svg></div>
<div class="r" style="top:294.2px"><span class="ex" style="left:923.6px"></span><u class="lb" style="left:946.9px">Juvenile</u><b style="right:1247.5px">7,993</b><b style="right:1134.3px">9,011</b><svg style="left:1441.3px"><use href="#dn"/></svg><b style="right:992.6px">76,136</b><b style="right:871.2px">97,527</b><svg style="left:1704.7px"><use href="#dn"/></svg><b style="right:729.7px">117</b><b style="right:611.6px">93</b><svg style="left:1964.3px"><use href="#up"/></svg><b style="right:469.9px">1,314</b><b style="right:363.2px">4,340</b><svg style="left:2212.0px"><use href="#dn"/></svg><b style="right:217.5px">85,560</b><b style="right:98.8px">110,971</b><svg style="left:2481.1px"><use href="#dn"/></svg></div>
<div class="r" style="top:316.8px"><span class="ex" style="left:936.7px"></span><u class="lb" style="left:960.0px">10-17</u><b style="right:1247.5px">7,967</b><b style="right:1134.3px">8,981</b><svg style="left:1441.3px"><use href="#dn"/></svg><b style="right:992.6px">75,911</b><b style="right:871.2px">97,286</b><svg style="left:1704.7px"><use href="#dn"/></svg><b style="right:729.7px">117</b><b style="right:611.6px">92</b><svg style="left:1964.3px"><use href="#up"/></svg><b style="right:469.9px">1,289</b><b style="right:363.2px">4,313</b><svg style="left:2212.0px"><use href="#dn"/></svg><b style="right:217.5px">85,284</b><b style="right:98.8px">110,672</b><svg style="left:2481.1px"><use href="#dn"/></svg></div>
<div class="r" style="top:339.2px"><u style="left:973.5px">Person and Vehicle search</u><i style="right:1247.5px">642</i><i style="right:1134.3px">1,050</i><svg style="left:1441.3px"><use href="#dn"/></svg><i style="right:992.6px">5,906</i><i style="right:871.2px">9,188</i><svg style="left:1704.7px"><use href="#dn"/></svg><i style="right:729.7px">7</i><i style="right:611.6px">8</i><svg style="left:1964.3px"><use href="#dn"/></svg><i style="right:469.9px">53</i><i style="right:363.2px">154</i><svg style="left:2212.0px"><use href="#dn"/></svg><b style="right:217.5px">6,608</b><b style="right:98.8px">10,400</b><svg style="left:2481.1px"><use href="#dn"/></svg></div>
<div class="r" style="top:361.8px"><u style="left:973.5px">Person search</u><i style="right:1247.5px">7,309</i><i style="right:1134.3px">7,907</i><svg style="left:1441.3px"><use href="#dn"/></svg><i style="right:992.6px">69,871</i><i style="right:871.2px">87,954</i><svg style="left:1704.7px"><use href="#dn"/></svg><i style="right:729.7px">110</i><i style="right:611.6px">84</i><svg style="left:1964.3px"><use href="#up"/></svg><i style="right:469.9px">1,236</i><i style="right:363.2px">4,159</i><svg style="left:2212.0px"><use href="#dn"/></svg><b style="right:217.5px">78,627</b><b style="right:98.8px">100,217</b><svg style="left:2481.1px"><use href="#dn"/></svg></div>
</div>
<div class="r" style="top:1344.8px"><u class="lb" style="left:946.9px">Total</u><b style="right:1247.5px">51,368</b><b style="right:1134.3px">58,862</b><svg style="left:1441.3px"><use href="#dn"/></svg><b style="right:992.6px">463,861</b><b style="right:871.2px">581,967</b><svg style="left:1704.7px"><use href="#dn"/></svg><b style="right:729.7px">1,217</b><b style="right:611.6px">1,278</b><svg style="left:1964.3px"><use href="#dn"/></svg><b style="right:469.9px">25,055</b><b style="right:363.2px">47,544</b><svg style="left:2212.0px"><use href="#dn"/></svg><b style="right:217.5px">541,501</b><b style="right:98.8px">689,651</b><svg style="left:2481.1px"><use href="#dn"/></svg></div>
<div class="abs" style="left:2513px;top:897px;width:12.5px;height:458px;background:rgba(255,255,255,.55)"></div>
<div class="abs" style="left:2513px;top:933px;width:12.5px;height:231px;background:#c8c8c8"></div>
<svg class="abs" style="left:2514px;top:909px" width="11" height="8" viewBox="0 0 11 8"><path d="M1.5 6.5L5.5 2L9.5 6.5" fill="none" stroke="#444" stroke-width="1.3"/></svg>
<svg class="abs" style="left:2514px;top:1331px" width="11" height="8" viewBox="0 0 11 8"><path d="M1.5 1.5L5.5 6L9.5 1.5" fill="none" stroke="#444" stroke-width="1.3"/></svg>
</div>
<!--/TABLE-->
<!-- FOOTER -->
<div class="t" style="top:1394.38px;font-size:14.20px;color:#7e7e7e;left:9.40px;transform:scaleX(0.9930);transform-origin:0 50%;">Available Date Range ( 01 January 2021 - 31 December 2021 )</div>
<div class="t" style="top:1394.38px;font-size:14.20px;color:#7e7e7e;right:16.50px;transform:scaleX(0.9925);transform-origin:100% 50%;">Selected Date Range ( 01 January 2021 - 31 December 2021 )</div>
<div id="edge"></div>
</div>
</body>
</html>
